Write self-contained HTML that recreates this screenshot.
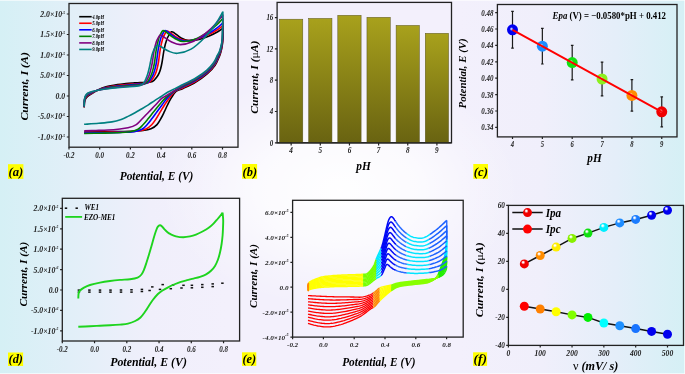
<!DOCTYPE html><html><head><meta charset="utf-8"><style>html,body{margin:0;padding:0;background:#fff;overflow:hidden;width:685px;height:374px;}svg{display:block;will-change:transform;}</style></head><body>
<svg width="685" height="374" viewBox="0 0 685 374" font-family="'Liberation Serif', serif">
<defs>
<linearGradient id="bg" x1="0" y1="0" x2="1" y2="0">
<stop offset="0" stop-color="#d5f0f5"/>
<stop offset="0.1" stop-color="#e1eff8"/>
<stop offset="0.22" stop-color="#f0effb"/>
<stop offset="0.33" stop-color="#f3f0fc"/>
<stop offset="0.67" stop-color="#f3f0fc"/>
<stop offset="0.79" stop-color="#f0effb"/>
<stop offset="0.9" stop-color="#e4eef9"/>
<stop offset="1" stop-color="#d5f0f5"/>
</linearGradient>
<radialGradient id="glow" gradientUnits="userSpaceOnUse" cx="340" cy="190" r="180" gradientTransform="translate(340,190) scale(1,0.66) translate(-340,-190)">
<stop offset="0" stop-color="#ffffff" stop-opacity="0.97"/>
<stop offset="0.45" stop-color="#ffffff" stop-opacity="0.7"/>
<stop offset="0.75" stop-color="#ffffff" stop-opacity="0.25"/>
<stop offset="1" stop-color="#ffffff" stop-opacity="0"/>
</radialGradient>
<linearGradient id="bar" x1="0" y1="0" x2="0" y2="1">
<stop offset="0" stop-color="#a8a11c"/>
<stop offset="1" stop-color="#696311"/>
</linearGradient>
<linearGradient id="pbg" x1="0" y1="0" x2="0" y2="1">
<stop offset="0" stop-color="#ffffff" stop-opacity="0.25"/>
<stop offset="1" stop-color="#ffffff" stop-opacity="0.25"/>
</linearGradient>

<radialGradient id="g_blue" cx="0.42" cy="0.4" r="0.62" fx="0.36" fy="0.3"><stop offset="0" stop-color="#ffffff"/><stop offset="0.1" stop-color="#ffffff" stop-opacity="0.9"/><stop offset="0.38" stop-color="#0000f0"/><stop offset="1" stop-color="#0000f0"/></radialGradient>
<radialGradient id="g_dblue" cx="0.42" cy="0.4" r="0.62" fx="0.36" fy="0.3"><stop offset="0" stop-color="#ffffff"/><stop offset="0.1" stop-color="#ffffff" stop-opacity="0.9"/><stop offset="0.38" stop-color="#1e8cff"/><stop offset="1" stop-color="#1e8cff"/></radialGradient>
<radialGradient id="g_green" cx="0.42" cy="0.4" r="0.62" fx="0.36" fy="0.3"><stop offset="0" stop-color="#ffffff"/><stop offset="0.1" stop-color="#ffffff" stop-opacity="0.9"/><stop offset="0.38" stop-color="#11e011"/><stop offset="1" stop-color="#11e011"/></radialGradient>
<radialGradient id="g_lgreen" cx="0.42" cy="0.4" r="0.62" fx="0.36" fy="0.3"><stop offset="0" stop-color="#ffffff"/><stop offset="0.1" stop-color="#ffffff" stop-opacity="0.9"/><stop offset="0.38" stop-color="#8cf01e"/><stop offset="1" stop-color="#8cf01e"/></radialGradient>
<radialGradient id="g_orange" cx="0.42" cy="0.4" r="0.62" fx="0.36" fy="0.3"><stop offset="0" stop-color="#ffffff"/><stop offset="0.1" stop-color="#ffffff" stop-opacity="0.9"/><stop offset="0.38" stop-color="#ff8c00"/><stop offset="1" stop-color="#ff8c00"/></radialGradient>
<radialGradient id="g_red" cx="0.42" cy="0.4" r="0.62" fx="0.36" fy="0.3"><stop offset="0" stop-color="#ffffff"/><stop offset="0.1" stop-color="#ffffff" stop-opacity="0.9"/><stop offset="0.38" stop-color="#f00000"/><stop offset="1" stop-color="#f00000"/></radialGradient>
<radialGradient id="g_yellow" cx="0.42" cy="0.4" r="0.62" fx="0.36" fy="0.3"><stop offset="0" stop-color="#ffffff"/><stop offset="0.1" stop-color="#ffffff" stop-opacity="0.9"/><stop offset="0.38" stop-color="#ffee00"/><stop offset="1" stop-color="#ffee00"/></radialGradient>
<radialGradient id="g_cyan" cx="0.42" cy="0.4" r="0.62" fx="0.36" fy="0.3"><stop offset="0" stop-color="#ffffff"/><stop offset="0.1" stop-color="#ffffff" stop-opacity="0.9"/><stop offset="0.38" stop-color="#00eeff"/><stop offset="1" stop-color="#00eeff"/></radialGradient>
<radialGradient id="g_mblue" cx="0.42" cy="0.4" r="0.62" fx="0.36" fy="0.3"><stop offset="0" stop-color="#ffffff"/><stop offset="0.1" stop-color="#ffffff" stop-opacity="0.9"/><stop offset="0.38" stop-color="#1a7cff"/><stop offset="1" stop-color="#1a7cff"/></radialGradient>
<radialGradient id="g_ygreen" cx="0.42" cy="0.4" r="0.62" fx="0.36" fy="0.3"><stop offset="0" stop-color="#ffffff"/><stop offset="0.1" stop-color="#ffffff" stop-opacity="0.9"/><stop offset="0.38" stop-color="#88f000"/><stop offset="1" stop-color="#88f000"/></radialGradient>
<radialGradient id="gc_blue" cx="0.45" cy="0.45" r="0.6" fx="0.4" fy="0.42"><stop offset="0" stop-color="#ffffff"/><stop offset="0.3" stop-color="#0000f0"/><stop offset="1" stop-color="#0000f0"/></radialGradient>
<radialGradient id="gc_dblue" cx="0.45" cy="0.45" r="0.6" fx="0.4" fy="0.42"><stop offset="0" stop-color="#ffffff"/><stop offset="0.3" stop-color="#1e8cff"/><stop offset="1" stop-color="#1e8cff"/></radialGradient>
<radialGradient id="gc_green" cx="0.45" cy="0.45" r="0.6" fx="0.4" fy="0.42"><stop offset="0" stop-color="#ffffff"/><stop offset="0.3" stop-color="#11e011"/><stop offset="1" stop-color="#11e011"/></radialGradient>
<radialGradient id="gc_lgreen" cx="0.45" cy="0.45" r="0.6" fx="0.4" fy="0.42"><stop offset="0" stop-color="#ffffff"/><stop offset="0.3" stop-color="#8cf01e"/><stop offset="1" stop-color="#8cf01e"/></radialGradient>
<radialGradient id="gc_orange" cx="0.45" cy="0.45" r="0.6" fx="0.4" fy="0.42"><stop offset="0" stop-color="#ffffff"/><stop offset="0.3" stop-color="#ff8c00"/><stop offset="1" stop-color="#ff8c00"/></radialGradient>
<radialGradient id="gc_red" cx="0.45" cy="0.45" r="0.6" fx="0.4" fy="0.42"><stop offset="0" stop-color="#ffffff"/><stop offset="0.3" stop-color="#f00000"/><stop offset="1" stop-color="#f00000"/></radialGradient>
<radialGradient id="gc_yellow" cx="0.45" cy="0.45" r="0.6" fx="0.4" fy="0.42"><stop offset="0" stop-color="#ffffff"/><stop offset="0.3" stop-color="#ffee00"/><stop offset="1" stop-color="#ffee00"/></radialGradient>
<radialGradient id="gc_cyan" cx="0.45" cy="0.45" r="0.6" fx="0.4" fy="0.42"><stop offset="0" stop-color="#ffffff"/><stop offset="0.3" stop-color="#00eeff"/><stop offset="1" stop-color="#00eeff"/></radialGradient>
<radialGradient id="gc_mblue" cx="0.45" cy="0.45" r="0.6" fx="0.4" fy="0.42"><stop offset="0" stop-color="#ffffff"/><stop offset="0.3" stop-color="#1a7cff"/><stop offset="1" stop-color="#1a7cff"/></radialGradient>
<radialGradient id="gc_ygreen" cx="0.45" cy="0.45" r="0.6" fx="0.4" fy="0.42"><stop offset="0" stop-color="#ffffff"/><stop offset="0.3" stop-color="#88f000"/><stop offset="1" stop-color="#88f000"/></radialGradient>
</defs>
<rect x="0" y="0" width="685" height="374" fill="url(#bg)"/>
<rect x="0" y="0" width="685" height="374" fill="url(#glow)"/>
<rect x="0" y="0" width="685" height="1" fill="#ffffff" opacity="0.6"/>
<rect x="0" y="373" width="685" height="1" fill="#ffffff" opacity="0.6"/>
<rect x="684" y="0" width="1" height="374" fill="#ffffff" opacity="0.6"/>
<rect x="69.00" y="3.50" width="169.00" height="143.70" fill="none" stroke="#222" stroke-width="1.30"/>
<path d="M69.00,14.00H66.80M69.00,34.50H66.80M69.00,55.00H66.80M69.00,75.50H66.80M69.00,96.00H66.80M69.00,116.50H66.80M69.00,137.00H66.80" stroke="#222" stroke-width="1.20" fill="none"/>
<path d="M69.00,147.20V149.40M99.70,147.20V149.40M130.40,147.20V149.40M161.10,147.20V149.40M191.80,147.20V149.40M222.50,147.20V149.40" stroke="#222" stroke-width="1.20" fill="none"/>
<text x="65.20" y="16.90" font-size="8.40" font-weight="bold" font-style="italic" text-anchor="end" fill="#1a1a1a" textLength="24.86" lengthAdjust="spacingAndGlyphs" >2.0&#215;10<tspan font-size="4.00" dy="-3.3">-5</tspan></text>
<text x="65.20" y="37.40" font-size="8.40" font-weight="bold" font-style="italic" text-anchor="end" fill="#1a1a1a" textLength="24.86" lengthAdjust="spacingAndGlyphs" >1.5&#215;10<tspan font-size="4.00" dy="-3.3">-5</tspan></text>
<text x="65.20" y="57.90" font-size="8.40" font-weight="bold" font-style="italic" text-anchor="end" fill="#1a1a1a" textLength="24.86" lengthAdjust="spacingAndGlyphs" >1.0&#215;10<tspan font-size="4.00" dy="-3.3">-5</tspan></text>
<text x="65.20" y="78.40" font-size="8.40" font-weight="bold" font-style="italic" text-anchor="end" fill="#1a1a1a" textLength="24.86" lengthAdjust="spacingAndGlyphs" >5.0&#215;10<tspan font-size="4.00" dy="-3.3">-6</tspan></text>
<text x="65.20" y="98.90" font-size="8.40" font-weight="bold" font-style="italic" text-anchor="end" fill="#1a1a1a" textLength="9.66" lengthAdjust="spacingAndGlyphs" >0.0</text>
<text x="65.20" y="119.40" font-size="8.40" font-weight="bold" font-style="italic" text-anchor="end" fill="#1a1a1a" textLength="27.43" lengthAdjust="spacingAndGlyphs" >-5.0&#215;10<tspan font-size="4.00" dy="-3.3">-6</tspan></text>
<text x="65.20" y="139.90" font-size="8.40" font-weight="bold" font-style="italic" text-anchor="end" fill="#1a1a1a" textLength="27.43" lengthAdjust="spacingAndGlyphs" >-1.0&#215;10<tspan font-size="4.00" dy="-3.3">-5</tspan></text>
<text x="69.00" y="158.40" font-size="7.80" font-weight="bold" font-style="italic" text-anchor="middle" fill="#1a1a1a" textLength="11.11" lengthAdjust="spacingAndGlyphs" >-0.2</text>
<text x="99.70" y="158.40" font-size="7.80" font-weight="bold" font-style="italic" text-anchor="middle" fill="#1a1a1a" textLength="8.78" lengthAdjust="spacingAndGlyphs" >0.0</text>
<text x="130.40" y="158.40" font-size="7.80" font-weight="bold" font-style="italic" text-anchor="middle" fill="#1a1a1a" textLength="8.78" lengthAdjust="spacingAndGlyphs" >0.2</text>
<text x="161.10" y="158.40" font-size="7.80" font-weight="bold" font-style="italic" text-anchor="middle" fill="#1a1a1a" textLength="8.78" lengthAdjust="spacingAndGlyphs" >0.4</text>
<text x="191.80" y="158.40" font-size="7.80" font-weight="bold" font-style="italic" text-anchor="middle" fill="#1a1a1a" textLength="8.78" lengthAdjust="spacingAndGlyphs" >0.6</text>
<text x="222.50" y="158.40" font-size="7.80" font-weight="bold" font-style="italic" text-anchor="middle" fill="#1a1a1a" textLength="8.78" lengthAdjust="spacingAndGlyphs" >0.8</text>
<text transform="translate(28.30,86.30) rotate(-90)" x="0" y="0" font-size="11.00" font-weight="bold" font-style="italic" text-anchor="middle" textLength="68.60" lengthAdjust="spacingAndGlyphs">Current, I (A)</text>
<text x="119.70" y="180.10" font-size="12.80" font-weight="bold" font-style="italic" text-anchor="start" fill="#000" textLength="73.70" lengthAdjust="spacingAndGlyphs" >Potential, E (V)</text>
<rect x="8.00" y="164.20" width="15.40" height="14.70" fill="#ffff00"/>
<text x="15.90" y="175.70" font-size="12.20" font-weight="bold" font-style="italic" text-anchor="middle" fill="#000" textLength="14.80" lengthAdjust="spacingAndGlyphs" >(a)</text>
<path d="M79.2,16.70H91.7" stroke="#000000" stroke-width="1.6"/>
<text x="92.20" y="18.70" font-size="6.20" font-weight="bold" font-style="italic" text-anchor="start" fill="#000" textLength="12.00" lengthAdjust="spacingAndGlyphs" >4.0pH</text>
<path d="M79.2,23.25H91.7" stroke="#ff0000" stroke-width="1.6"/>
<text x="92.20" y="25.25" font-size="6.20" font-weight="bold" font-style="italic" text-anchor="start" fill="#000" textLength="12.00" lengthAdjust="spacingAndGlyphs" >5.0pH</text>
<path d="M79.2,29.80H91.7" stroke="#0000ff" stroke-width="1.6"/>
<text x="92.20" y="31.80" font-size="6.20" font-weight="bold" font-style="italic" text-anchor="start" fill="#000" textLength="12.00" lengthAdjust="spacingAndGlyphs" >6.0pH</text>
<path d="M79.2,36.35H91.7" stroke="#008000" stroke-width="1.6"/>
<text x="92.20" y="38.35" font-size="6.20" font-weight="bold" font-style="italic" text-anchor="start" fill="#000" textLength="12.00" lengthAdjust="spacingAndGlyphs" >7.0pH</text>
<path d="M79.2,42.90H91.7" stroke="#800080" stroke-width="1.6"/>
<text x="92.20" y="44.90" font-size="6.20" font-weight="bold" font-style="italic" text-anchor="start" fill="#000" textLength="12.00" lengthAdjust="spacingAndGlyphs" >8.0pH</text>
<path d="M79.2,49.45H91.7" stroke="#008080" stroke-width="1.6"/>
<text x="92.20" y="51.45" font-size="6.20" font-weight="bold" font-style="italic" text-anchor="start" fill="#000" textLength="12.00" lengthAdjust="spacingAndGlyphs" >9.0pH</text>
<path d="M84.20,107.50 C84.25,106.58 84.27,103.45 84.50,102.00 C84.73,100.55 85.02,99.77 85.60,98.80 C86.18,97.83 86.93,97.07 88.00,96.20 C89.07,95.33 90.33,94.65 92.00,93.60 C93.67,92.55 95.67,91.03 98.00,89.90 C100.33,88.77 102.75,87.68 106.00,86.80 C109.25,85.92 114.17,85.13 117.50,84.60 C120.83,84.07 123.42,83.87 126.00,83.60 C128.58,83.33 130.67,83.18 133.00,83.00 C135.33,82.82 137.83,82.60 140.00,82.50 C142.17,82.40 144.22,82.47 146.00,82.40 C147.78,82.33 149.37,82.45 150.70,82.10 C152.03,81.75 152.95,81.18 154.00,80.30 C155.05,79.42 156.15,77.98 157.00,76.80 C157.85,75.62 158.48,74.58 159.10,73.20 C159.72,71.82 160.20,70.37 160.70,68.50 C161.20,66.63 161.53,65.20 162.10,62.00 C162.67,58.80 163.34,53.14 164.15,49.32 C164.95,45.49 166.07,41.51 166.94,39.05 C167.80,36.58 168.61,35.73 169.35,34.52 C170.10,33.31 170.59,32.09 171.40,31.80 C172.21,31.51 172.59,31.77 174.20,32.80 C175.81,33.83 178.63,36.70 181.05,38.00 C183.47,39.30 185.72,40.37 188.70,40.60 C191.68,40.83 195.54,40.15 198.96,39.37 C202.38,38.59 206.08,37.20 209.22,35.93 C212.36,34.66 215.49,33.02 217.77,31.74 C220.05,30.47 222.05,28.87 222.90,28.30 M222.90,28.30 C222.92,29.92 223.12,35.05 223.00,38.00 C222.88,40.95 222.53,43.75 222.20,46.00 C221.87,48.25 221.48,49.73 221.00,51.50 C220.52,53.27 220.28,54.32 219.30,56.60 C218.32,58.88 217.08,62.37 215.10,65.20 C213.12,68.03 210.62,70.80 207.40,73.60 C204.18,76.40 199.87,79.52 195.80,82.00 C191.73,84.48 186.30,86.92 183.00,88.50 C179.70,90.08 178.00,89.85 176.00,91.50 C174.00,93.15 172.42,96.15 171.00,98.40 C169.58,100.65 168.60,102.78 167.50,105.00 C166.40,107.22 165.40,109.62 164.40,111.70 C163.40,113.78 162.73,115.35 161.50,117.50 C160.27,119.65 158.75,122.72 157.00,124.60 C155.25,126.48 153.33,127.82 151.00,128.80 C148.67,129.78 146.50,130.10 143.00,130.50 C139.50,130.90 135.50,131.02 130.00,131.20 C124.50,131.38 117.63,131.47 110.00,131.60 C102.37,131.73 88.50,131.93 84.20,132.00" fill="none" stroke="#000000" stroke-width="1.60" stroke-linejoin="round"/>
<path d="M84.20,107.19 C84.24,106.20 84.24,102.79 84.47,101.22 C84.70,99.66 85.01,98.78 85.60,97.78 C86.19,96.77 86.93,96.01 88.00,95.21 C89.07,94.41 90.33,93.84 92.00,92.98 C93.67,92.12 95.67,90.94 98.00,90.02 C100.33,89.11 102.75,88.23 106.00,87.48 C109.25,86.73 114.17,86.00 117.50,85.53 C120.83,85.06 123.42,84.90 126.00,84.66 C128.58,84.41 130.77,84.24 133.00,84.06 C135.23,83.87 137.50,83.68 139.38,83.56 C141.26,83.43 142.81,83.45 144.26,83.33 C145.71,83.21 146.93,83.28 148.06,82.84 C149.20,82.41 150.14,81.67 151.08,80.70 C152.02,79.74 152.96,78.25 153.71,77.05 C154.46,75.84 154.99,74.91 155.56,73.48 C156.13,72.04 156.64,70.35 157.13,68.44 C157.62,66.52 157.97,65.23 158.50,62.00 C159.03,58.77 159.59,52.97 160.30,49.06 C161.01,45.16 162.00,41.11 162.76,38.59 C163.53,36.08 164.24,35.20 164.90,33.97 C165.55,32.74 165.93,31.50 166.70,31.20 C167.47,30.90 167.72,31.12 169.50,32.20 C171.28,33.28 174.60,36.30 177.35,37.70 C180.10,39.10 182.71,40.37 186.00,40.60 C189.29,40.83 193.38,40.05 197.07,39.09 C200.76,38.13 204.76,36.42 208.14,34.86 C211.52,33.30 214.91,31.29 217.37,29.73 C219.83,28.17 221.98,26.20 222.90,25.50 M222.90,25.50 C222.89,27.58 223.00,34.58 222.84,38.00 C222.68,41.42 222.32,43.75 221.96,46.00 C221.60,48.25 221.19,49.77 220.68,51.50 C220.17,53.23 219.88,54.16 218.90,56.36 C217.92,58.56 216.72,61.95 214.78,64.72 C212.84,67.49 210.40,70.21 207.24,72.96 C204.08,75.71 199.84,78.74 195.80,81.20 C191.76,83.66 186.47,86.02 183.00,87.70 C179.53,89.38 177.33,89.52 175.00,91.30 C172.67,93.08 170.75,96.12 169.00,98.40 C167.25,100.68 165.93,102.78 164.50,105.00 C163.07,107.22 161.77,109.45 160.40,111.70 C159.03,113.95 157.75,116.32 156.30,118.50 C154.85,120.68 153.42,123.05 151.70,124.80 C149.98,126.55 148.28,127.97 146.00,129.00 C143.72,130.03 141.50,130.53 138.00,131.00 C134.50,131.47 130.50,131.60 125.00,131.80 C119.50,132.00 111.80,132.07 105.00,132.20 C98.20,132.33 87.67,132.53 84.20,132.60" fill="none" stroke="#ff0000" stroke-width="1.60" stroke-linejoin="round"/>
<path d="M84.20,107.02 C84.24,105.98 84.22,102.43 84.45,100.79 C84.69,99.16 85.01,98.23 85.60,97.21 C86.19,96.18 86.93,95.42 88.00,94.66 C89.07,93.89 90.33,93.39 92.00,92.63 C93.67,91.87 95.67,90.89 98.00,90.09 C100.33,89.30 102.75,88.54 106.00,87.86 C109.25,87.19 114.17,86.49 117.50,86.05 C120.83,85.61 123.42,85.48 126.00,85.24 C128.58,85.01 130.83,84.82 133.00,84.64 C135.17,84.46 137.32,84.27 139.03,84.14 C140.75,84.01 142.04,84.00 143.30,83.85 C144.56,83.70 145.57,83.75 146.60,83.26 C147.62,82.77 148.58,81.94 149.46,80.93 C150.34,79.92 151.19,78.40 151.88,77.19 C152.57,75.97 153.05,75.10 153.60,73.63 C154.14,72.17 154.66,70.34 155.15,68.40 C155.63,66.46 155.97,65.26 156.50,62.00 C157.03,58.74 157.59,52.82 158.30,48.85 C159.01,44.89 160.00,40.77 160.76,38.21 C161.53,35.66 162.24,34.77 162.90,33.52 C163.55,32.26 163.93,31.00 164.70,30.70 C165.47,30.40 165.68,30.54 167.50,31.70 C169.32,32.86 172.77,36.10 175.60,37.65 C178.43,39.20 181.10,40.74 184.50,41.00 C187.90,41.26 192.18,40.33 196.02,39.18 C199.86,38.03 204.02,35.96 207.54,34.08 C211.06,32.20 214.58,29.78 217.14,27.90 C219.70,26.02 221.94,23.65 222.90,22.80 M222.90,22.80 C222.86,25.33 222.88,34.13 222.68,38.00 C222.48,41.87 222.11,43.75 221.72,46.00 C221.33,48.25 220.90,49.81 220.36,51.50 C219.82,53.19 219.48,54.00 218.50,56.12 C217.52,58.24 216.36,61.54 214.46,64.24 C212.56,66.94 210.19,69.63 207.08,72.32 C203.97,75.01 199.81,77.97 195.80,80.40 C191.79,82.83 186.55,85.10 183.00,86.90 C179.45,88.70 177.17,89.28 174.50,91.20 C171.83,93.12 169.08,96.10 167.00,98.40 C164.92,100.70 163.67,102.78 162.00,105.00 C160.33,107.22 158.67,109.45 157.00,111.70 C155.33,113.95 153.67,116.32 152.00,118.50 C150.33,120.68 148.67,123.00 147.00,124.80 C145.33,126.60 144.17,128.17 142.00,129.30 C139.83,130.43 137.67,131.08 134.00,131.60 C130.33,132.12 125.67,132.20 120.00,132.40 C114.33,132.60 105.97,132.68 100.00,132.80 C94.03,132.92 86.83,133.05 84.20,133.10" fill="none" stroke="#0000ff" stroke-width="1.60" stroke-linejoin="round"/>
<path d="M84.20,106.85 C84.24,105.78 84.20,102.08 84.44,100.38 C84.67,98.69 85.01,97.71 85.60,96.67 C86.19,95.62 86.93,94.86 88.00,94.13 C89.07,93.40 90.33,92.97 92.00,92.31 C93.67,91.64 95.67,90.84 98.00,90.16 C100.33,89.48 102.75,88.83 106.00,88.22 C109.25,87.62 114.17,86.94 117.50,86.54 C120.83,86.14 123.42,86.02 126.00,85.80 C128.58,85.57 130.88,85.38 133.00,85.20 C135.12,85.01 137.14,84.84 138.71,84.70 C140.27,84.56 141.30,84.51 142.38,84.34 C143.46,84.17 144.28,84.18 145.20,83.65 C146.13,83.12 147.10,82.20 147.92,81.14 C148.75,80.08 149.51,78.54 150.15,77.32 C150.78,76.09 151.21,75.27 151.73,73.78 C152.25,72.29 152.79,70.33 153.26,68.37 C153.74,66.41 154.08,65.25 154.60,62.00 C155.12,58.75 155.68,52.82 156.38,48.85 C157.08,44.89 158.06,40.77 158.81,38.21 C159.57,35.66 160.27,34.77 160.92,33.52 C161.57,32.26 161.94,31.00 162.70,30.70 C163.46,30.40 163.64,30.50 165.50,31.70 C167.36,32.90 170.93,36.27 173.85,37.90 C176.77,39.53 179.48,41.29 183.00,41.50 C186.52,41.71 190.98,40.65 194.97,39.17 C198.96,37.69 203.28,35.05 206.94,32.65 C210.60,30.24 214.26,27.13 216.92,24.72 C219.58,22.32 221.90,19.29 222.90,18.20 M222.90,18.20 C222.84,21.50 222.76,33.37 222.52,38.00 C222.28,42.63 221.89,43.75 221.48,46.00 C221.07,48.25 220.60,49.85 220.04,51.50 C219.48,53.15 219.08,53.84 218.10,55.88 C217.12,57.92 216.00,61.13 214.14,63.76 C212.28,66.39 209.98,69.04 206.92,71.68 C203.86,74.32 199.79,77.20 195.80,79.60 C191.81,82.00 186.63,84.18 183.00,86.10 C179.37,88.02 177.00,89.05 174.00,91.10 C171.00,93.15 167.47,96.08 165.00,98.40 C162.53,100.72 161.08,102.78 159.20,105.00 C157.32,107.22 155.52,109.45 153.70,111.70 C151.88,113.95 150.08,116.32 148.30,118.50 C146.52,120.68 144.72,123.00 143.00,124.80 C141.28,126.60 140.17,128.13 138.00,129.30 C135.83,130.47 133.67,131.22 130.00,131.80 C126.33,132.38 121.00,132.57 116.00,132.80 C111.00,133.03 105.30,133.08 100.00,133.20 C94.70,133.32 86.83,133.45 84.20,133.50" fill="none" stroke="#008000" stroke-width="1.60" stroke-linejoin="round"/>
<path d="M84.20,106.66 C84.24,105.54 84.18,101.68 84.42,99.91 C84.65,98.14 85.00,97.10 85.60,96.04 C86.20,94.98 86.93,94.21 88.00,93.52 C89.07,92.84 90.33,92.48 92.00,91.93 C93.67,91.38 95.67,90.78 98.00,90.23 C100.33,89.69 102.75,89.16 106.00,88.64 C109.25,88.12 114.17,87.47 117.50,87.11 C120.83,86.74 123.42,86.65 126.00,86.44 C128.58,86.23 130.95,86.03 133.00,85.84 C135.05,85.66 136.94,85.50 138.33,85.34 C139.71,85.19 140.44,85.11 141.32,84.91 C142.19,84.70 142.79,84.69 143.59,84.11 C144.40,83.52 145.38,82.49 146.14,81.39 C146.90,80.28 147.56,78.71 148.14,77.47 C148.71,76.23 149.08,75.48 149.57,73.95 C150.06,72.43 150.61,70.32 151.08,68.33 C151.56,66.34 151.90,64.93 152.40,62.00 C152.90,59.07 153.41,54.14 154.07,50.74 C154.73,47.35 155.64,43.82 156.35,41.63 C157.06,39.44 157.72,38.68 158.33,37.61 C158.94,36.54 159.25,35.44 160.00,35.20 C160.75,34.96 160.94,35.12 162.80,36.20 C164.66,37.28 168.23,40.30 171.15,41.70 C174.07,43.10 176.65,44.62 180.30,44.60 C183.96,44.58 188.82,43.50 193.08,41.60 C197.34,39.70 201.96,36.30 205.86,33.20 C209.77,30.10 213.67,26.10 216.51,23.00 C219.35,19.90 221.84,16.00 222.90,14.60 M222.90,14.60 C222.81,18.50 222.64,32.77 222.36,38.00 C222.08,43.23 221.68,43.75 221.24,46.00 C220.80,48.25 220.31,49.89 219.72,51.50 C219.13,53.11 218.68,53.68 217.70,55.64 C216.72,57.60 215.64,60.71 213.82,63.28 C212.00,65.85 209.76,68.45 206.76,71.04 C203.76,73.63 199.76,76.42 195.80,78.80 C191.84,81.18 186.63,83.28 183.00,85.30 C179.37,87.32 176.58,89.28 174.00,90.90 C171.42,92.52 169.55,93.75 167.50,95.00 C165.45,96.25 163.70,96.73 161.70,98.40 C159.70,100.07 157.62,102.78 155.50,105.00 C153.38,107.22 151.17,109.45 149.00,111.70 C146.83,113.95 144.62,116.35 142.50,118.50 C140.38,120.65 138.72,123.05 136.30,124.60 C133.88,126.15 131.05,127.03 128.00,127.80 C124.95,128.57 121.33,128.83 118.00,129.20 C114.67,129.57 111.67,129.78 108.00,130.00 C104.33,130.22 99.97,130.35 96.00,130.50 C92.03,130.65 86.17,130.83 84.20,130.90" fill="none" stroke="#800080" stroke-width="1.60" stroke-linejoin="round"/>
<path d="M84.20,106.50 C84.23,105.33 84.17,101.33 84.40,99.50 C84.63,97.67 85.00,96.58 85.60,95.50 C86.20,94.42 86.93,93.65 88.00,93.00 C89.07,92.35 90.33,92.05 92.00,91.60 C93.67,91.15 95.67,90.73 98.00,90.30 C100.33,89.87 102.75,89.45 106.00,89.00 C109.25,88.55 114.17,87.93 117.50,87.60 C120.83,87.27 123.42,87.20 126.00,87.00 C128.58,86.80 131.00,86.58 133.00,86.40 C135.00,86.22 136.77,86.07 138.00,85.90 C139.23,85.73 139.70,85.63 140.40,85.40 C141.10,85.17 141.50,85.13 142.20,84.50 C142.90,83.87 143.90,82.75 144.60,81.60 C145.30,80.45 145.88,78.85 146.40,77.60 C146.92,76.35 147.23,75.65 147.70,74.10 C148.17,72.55 148.73,70.32 149.20,68.30 C149.67,66.28 150.03,64.23 150.50,62.00 C150.97,59.77 151.42,57.07 152.02,54.94 C152.62,52.82 153.44,50.60 154.09,49.23 C154.73,47.86 155.33,47.38 155.88,46.71 C156.43,46.04 156.68,45.29 157.40,45.20 C158.12,45.11 158.37,45.23 160.20,46.20 C162.03,47.18 165.53,49.87 168.40,51.05 C171.27,52.23 173.62,53.62 177.40,53.30 C181.18,52.98 186.50,51.77 191.05,49.13 C195.60,46.49 200.53,41.76 204.70,37.45 C208.87,33.15 213.04,27.59 216.07,23.28 C219.11,18.97 221.76,13.55 222.90,11.60 M222.90,11.60 C222.78,16.00 222.52,32.27 222.20,38.00 C221.88,43.73 221.47,43.75 221.00,46.00 C220.53,48.25 220.02,49.93 219.40,51.50 C218.78,53.07 218.28,53.52 217.30,55.40 C216.32,57.28 215.28,60.30 213.50,62.80 C211.72,65.30 209.55,67.87 206.60,70.40 C203.65,72.93 199.73,75.65 195.80,78.00 C191.87,80.35 186.47,82.73 183.00,84.50 C179.53,86.27 177.50,87.35 175.00,88.60 C172.50,89.85 170.22,90.73 168.00,92.00 C165.78,93.27 163.87,94.82 161.70,96.20 C159.53,97.58 157.22,98.87 155.00,100.30 C152.78,101.73 150.73,103.30 148.40,104.80 C146.07,106.30 143.23,107.97 141.00,109.30 C138.77,110.63 137.17,111.62 135.00,112.80 C132.83,113.98 130.30,115.30 128.00,116.40 C125.70,117.50 123.88,118.48 121.20,119.40 C118.52,120.32 115.65,121.25 111.90,121.90 C108.15,122.55 103.33,122.90 98.70,123.30 C94.07,123.70 86.53,124.13 84.10,124.30" fill="none" stroke="#008080" stroke-width="1.60" stroke-linejoin="round"/>
<rect x="277.10" y="2.40" width="174.40" height="140.40" fill="none" stroke="#222" stroke-width="1.30"/>
<path d="M277.10,142.80H274.90M277.10,111.50H274.90M277.10,80.20H274.90M277.10,48.90H274.90M277.10,17.60H274.90" stroke="#222" stroke-width="1.20" fill="none"/>
<text x="273.30" y="145.60" font-size="8.00" font-weight="bold" font-style="italic" text-anchor="end" fill="#1a1a1a" textLength="3.44" lengthAdjust="spacingAndGlyphs" >0</text>
<text x="273.30" y="114.30" font-size="8.00" font-weight="bold" font-style="italic" text-anchor="end" fill="#1a1a1a" textLength="3.44" lengthAdjust="spacingAndGlyphs" >4</text>
<text x="273.30" y="83.00" font-size="8.00" font-weight="bold" font-style="italic" text-anchor="end" fill="#1a1a1a" textLength="3.44" lengthAdjust="spacingAndGlyphs" >8</text>
<text x="273.30" y="51.70" font-size="8.00" font-weight="bold" font-style="italic" text-anchor="end" fill="#1a1a1a" textLength="6.88" lengthAdjust="spacingAndGlyphs" >12</text>
<text x="273.30" y="20.40" font-size="8.00" font-weight="bold" font-style="italic" text-anchor="end" fill="#1a1a1a" textLength="6.88" lengthAdjust="spacingAndGlyphs" >16</text>
<rect x="279.50" y="19.20" width="23.3" height="123.60" fill="url(#bar)" stroke="#5a5520" stroke-width="0.5"/>
<rect x="308.65" y="18.40" width="23.3" height="124.40" fill="url(#bar)" stroke="#5a5520" stroke-width="0.5"/>
<rect x="337.80" y="15.30" width="23.3" height="127.50" fill="url(#bar)" stroke="#5a5520" stroke-width="0.5"/>
<rect x="366.95" y="17.30" width="23.3" height="125.50" fill="url(#bar)" stroke="#5a5520" stroke-width="0.5"/>
<rect x="396.10" y="25.40" width="23.3" height="117.40" fill="url(#bar)" stroke="#5a5520" stroke-width="0.5"/>
<rect x="425.25" y="33.30" width="23.3" height="109.50" fill="url(#bar)" stroke="#5a5520" stroke-width="0.5"/>
<path d="M277.10,142.80H451.50" stroke="#222" stroke-width="1.3"/>
<path d="M291.15,142.80V145.40M320.30,142.80V145.40M349.45,142.80V145.40M378.60,142.80V145.40M407.75,142.80V145.40M436.90,142.80V145.40" stroke="#222" stroke-width="1.20" fill="none"/>
<text x="291.15" y="153.20" font-size="8.00" font-weight="bold" font-style="italic" text-anchor="middle" fill="#1a1a1a" textLength="3.60" lengthAdjust="spacingAndGlyphs" >4</text>
<text x="320.30" y="153.20" font-size="8.00" font-weight="bold" font-style="italic" text-anchor="middle" fill="#1a1a1a" textLength="3.60" lengthAdjust="spacingAndGlyphs" >5</text>
<text x="349.45" y="153.20" font-size="8.00" font-weight="bold" font-style="italic" text-anchor="middle" fill="#1a1a1a" textLength="3.60" lengthAdjust="spacingAndGlyphs" >6</text>
<text x="378.60" y="153.20" font-size="8.00" font-weight="bold" font-style="italic" text-anchor="middle" fill="#1a1a1a" textLength="3.60" lengthAdjust="spacingAndGlyphs" >7</text>
<text x="407.75" y="153.20" font-size="8.00" font-weight="bold" font-style="italic" text-anchor="middle" fill="#1a1a1a" textLength="3.60" lengthAdjust="spacingAndGlyphs" >8</text>
<text x="436.90" y="153.20" font-size="8.00" font-weight="bold" font-style="italic" text-anchor="middle" fill="#1a1a1a" textLength="3.60" lengthAdjust="spacingAndGlyphs" >9</text>
<text transform="translate(257.80,77.20) rotate(-90)" x="0" y="0" font-size="11.00" font-weight="bold" font-style="italic" text-anchor="middle" textLength="73.30" lengthAdjust="spacingAndGlyphs">Current, I (<tspan font-style="normal" font-weight="normal">&#956;</tspan>A)</text>
<text x="356.30" y="170.40" font-size="13.50" font-weight="bold" font-style="italic" text-anchor="start" fill="#000" textLength="14.50" lengthAdjust="spacingAndGlyphs" >pH</text>
<rect x="242.10" y="164.00" width="15.00" height="14.80" fill="#ffff00"/>
<text x="249.80" y="175.60" font-size="12.20" font-weight="bold" font-style="italic" text-anchor="middle" fill="#000" textLength="14.40" lengthAdjust="spacingAndGlyphs" >(b)</text>
<rect x="497.40" y="4.50" width="179.60" height="132.40" fill="none" stroke="#222" stroke-width="1.30"/>
<path d="M497.40,12.60H495.20M497.40,29.00H495.20M497.40,45.40H495.20M497.40,61.80H495.20M497.40,78.20H495.20M497.40,94.60H495.20M497.40,111.00H495.20M497.40,127.40H495.20" stroke="#222" stroke-width="1.20" fill="none"/>
<text x="493.50" y="15.50" font-size="7.60" font-weight="bold" font-style="italic" text-anchor="end" fill="#1a1a1a" textLength="12.24" lengthAdjust="spacingAndGlyphs" >0.48</text>
<text x="493.50" y="31.90" font-size="7.60" font-weight="bold" font-style="italic" text-anchor="end" fill="#1a1a1a" textLength="12.24" lengthAdjust="spacingAndGlyphs" >0.46</text>
<text x="493.50" y="48.30" font-size="7.60" font-weight="bold" font-style="italic" text-anchor="end" fill="#1a1a1a" textLength="12.24" lengthAdjust="spacingAndGlyphs" >0.44</text>
<text x="493.50" y="64.70" font-size="7.60" font-weight="bold" font-style="italic" text-anchor="end" fill="#1a1a1a" textLength="12.24" lengthAdjust="spacingAndGlyphs" >0.42</text>
<text x="493.50" y="81.10" font-size="7.60" font-weight="bold" font-style="italic" text-anchor="end" fill="#1a1a1a" textLength="12.24" lengthAdjust="spacingAndGlyphs" >0.40</text>
<text x="493.50" y="97.50" font-size="7.60" font-weight="bold" font-style="italic" text-anchor="end" fill="#1a1a1a" textLength="12.24" lengthAdjust="spacingAndGlyphs" >0.38</text>
<text x="493.50" y="113.90" font-size="7.60" font-weight="bold" font-style="italic" text-anchor="end" fill="#1a1a1a" textLength="12.24" lengthAdjust="spacingAndGlyphs" >0.36</text>
<text x="493.50" y="130.30" font-size="7.60" font-weight="bold" font-style="italic" text-anchor="end" fill="#1a1a1a" textLength="12.24" lengthAdjust="spacingAndGlyphs" >0.34</text>
<path d="M512.50,136.90V139.10M542.35,136.90V139.10M572.20,136.90V139.10M602.05,136.90V139.10M631.90,136.90V139.10M661.75,136.90V139.10" stroke="#222" stroke-width="1.20" fill="none"/>
<text x="512.50" y="147.00" font-size="7.40" font-weight="bold" font-style="italic" text-anchor="middle" fill="#1a1a1a" textLength="3.33" lengthAdjust="spacingAndGlyphs" >4</text>
<text x="542.35" y="147.00" font-size="7.40" font-weight="bold" font-style="italic" text-anchor="middle" fill="#1a1a1a" textLength="3.33" lengthAdjust="spacingAndGlyphs" >5</text>
<text x="572.20" y="147.00" font-size="7.40" font-weight="bold" font-style="italic" text-anchor="middle" fill="#1a1a1a" textLength="3.33" lengthAdjust="spacingAndGlyphs" >6</text>
<text x="602.05" y="147.00" font-size="7.40" font-weight="bold" font-style="italic" text-anchor="middle" fill="#1a1a1a" textLength="3.33" lengthAdjust="spacingAndGlyphs" >7</text>
<text x="631.90" y="147.00" font-size="7.40" font-weight="bold" font-style="italic" text-anchor="middle" fill="#1a1a1a" textLength="3.33" lengthAdjust="spacingAndGlyphs" >8</text>
<text x="661.75" y="147.00" font-size="7.40" font-weight="bold" font-style="italic" text-anchor="middle" fill="#1a1a1a" textLength="3.33" lengthAdjust="spacingAndGlyphs" >9</text>
<text transform="translate(466.20,73.40) rotate(-90)" x="0" y="0" font-size="11.40" font-weight="bold" font-style="italic" text-anchor="middle" textLength="70.20" lengthAdjust="spacingAndGlyphs">Potential, E (V)</text>
<text x="587.30" y="162.30" font-size="13.50" font-weight="bold" font-style="italic" text-anchor="start" fill="#000" textLength="14.40" lengthAdjust="spacingAndGlyphs" >pH</text>
<rect x="473.30" y="164.00" width="14.70" height="14.80" fill="#ffff00"/>
<text x="480.85" y="175.60" font-size="12.20" font-weight="bold" font-style="italic" text-anchor="middle" fill="#000" textLength="14.10" lengthAdjust="spacingAndGlyphs" >(c)</text>
<text x="552.6" y="18.7" font-size="9.6" font-weight="bold" textLength="113.4" lengthAdjust="spacingAndGlyphs"><tspan font-style="italic">Epa</tspan> (V) = &#8722;0.0580*pH + 0.412</text>
<path d="M512.50,11.40V48.20M511.20,11.40H513.80M511.20,48.20H513.80" stroke="#1a1a1a" stroke-width="1.2" fill="none"/>
<path d="M542.35,28.40V64.00M541.05,28.40H543.65M541.05,64.00H543.65" stroke="#1a1a1a" stroke-width="1.2" fill="none"/>
<path d="M572.20,45.30V79.90M570.90,45.30H573.50M570.90,79.90H573.50" stroke="#1a1a1a" stroke-width="1.2" fill="none"/>
<path d="M602.05,62.20V95.80M600.75,62.20H603.35M600.75,95.80H603.35" stroke="#1a1a1a" stroke-width="1.2" fill="none"/>
<path d="M631.90,79.60V111.20M630.60,79.60H633.20M630.60,111.20H633.20" stroke="#1a1a1a" stroke-width="1.2" fill="none"/>
<path d="M661.75,96.80V126.80M660.45,96.80H663.05M660.45,126.80H663.05" stroke="#1a1a1a" stroke-width="1.2" fill="none"/>
<circle cx="512.50" cy="29.80" r="5.5" fill="url(#gc_blue)"/>
<circle cx="542.35" cy="46.20" r="5.5" fill="url(#gc_dblue)"/>
<circle cx="572.20" cy="62.60" r="5.5" fill="url(#gc_green)"/>
<circle cx="602.05" cy="79.00" r="5.5" fill="url(#gc_lgreen)"/>
<circle cx="631.90" cy="95.40" r="5.5" fill="url(#gc_orange)"/>
<circle cx="661.75" cy="111.80" r="5.5" fill="url(#gc_red)"/>
<path d="M512.50,29.80L661.75,111.80" stroke="#ff0000" stroke-width="1.9"/>
<rect x="62.30" y="198.30" width="177.30" height="142.70" fill="none" stroke="#222" stroke-width="1.30"/>
<path d="M62.30,208.40H60.10M62.30,228.80H60.10M62.30,249.20H60.10M62.30,269.60H60.10M62.30,290.00H60.10M62.30,310.40H60.10M62.30,330.80H60.10" stroke="#222" stroke-width="1.20" fill="none"/>
<text x="58.40" y="211.30" font-size="8.40" font-weight="bold" font-style="italic" text-anchor="end" fill="#1a1a1a" textLength="24.86" lengthAdjust="spacingAndGlyphs" >2.0&#215;10<tspan font-size="4.00" dy="-3.3">-5</tspan></text>
<text x="58.40" y="231.70" font-size="8.40" font-weight="bold" font-style="italic" text-anchor="end" fill="#1a1a1a" textLength="24.86" lengthAdjust="spacingAndGlyphs" >1.5&#215;10<tspan font-size="4.00" dy="-3.3">-5</tspan></text>
<text x="58.40" y="252.10" font-size="8.40" font-weight="bold" font-style="italic" text-anchor="end" fill="#1a1a1a" textLength="24.86" lengthAdjust="spacingAndGlyphs" >1.0&#215;10<tspan font-size="4.00" dy="-3.3">-5</tspan></text>
<text x="58.40" y="272.50" font-size="8.40" font-weight="bold" font-style="italic" text-anchor="end" fill="#1a1a1a" textLength="24.86" lengthAdjust="spacingAndGlyphs" >5.0&#215;10<tspan font-size="4.00" dy="-3.3">-6</tspan></text>
<text x="58.40" y="292.90" font-size="8.40" font-weight="bold" font-style="italic" text-anchor="end" fill="#1a1a1a" textLength="9.66" lengthAdjust="spacingAndGlyphs" >0.0</text>
<text x="58.40" y="313.30" font-size="8.40" font-weight="bold" font-style="italic" text-anchor="end" fill="#1a1a1a" textLength="27.43" lengthAdjust="spacingAndGlyphs" >-5.0&#215;10<tspan font-size="4.00" dy="-3.3">-6</tspan></text>
<text x="58.40" y="333.70" font-size="8.40" font-weight="bold" font-style="italic" text-anchor="end" fill="#1a1a1a" textLength="27.43" lengthAdjust="spacingAndGlyphs" >-1.0&#215;10<tspan font-size="4.00" dy="-3.3">-5</tspan></text>
<path d="M62.30,341.00V343.20M94.55,341.00V343.20M126.80,341.00V343.20M159.05,341.00V343.20M191.30,341.00V343.20M223.55,341.00V343.20" stroke="#222" stroke-width="1.20" fill="none"/>
<text x="62.30" y="352.00" font-size="7.80" font-weight="bold" font-style="italic" text-anchor="middle" fill="#1a1a1a" textLength="11.11" lengthAdjust="spacingAndGlyphs" >-0.2</text>
<text x="94.55" y="352.00" font-size="7.80" font-weight="bold" font-style="italic" text-anchor="middle" fill="#1a1a1a" textLength="8.78" lengthAdjust="spacingAndGlyphs" >0.0</text>
<text x="126.80" y="352.00" font-size="7.80" font-weight="bold" font-style="italic" text-anchor="middle" fill="#1a1a1a" textLength="8.78" lengthAdjust="spacingAndGlyphs" >0.2</text>
<text x="159.05" y="352.00" font-size="7.80" font-weight="bold" font-style="italic" text-anchor="middle" fill="#1a1a1a" textLength="8.78" lengthAdjust="spacingAndGlyphs" >0.4</text>
<text x="191.30" y="352.00" font-size="7.80" font-weight="bold" font-style="italic" text-anchor="middle" fill="#1a1a1a" textLength="8.78" lengthAdjust="spacingAndGlyphs" >0.6</text>
<text x="223.55" y="352.00" font-size="7.80" font-weight="bold" font-style="italic" text-anchor="middle" fill="#1a1a1a" textLength="8.78" lengthAdjust="spacingAndGlyphs" >0.8</text>
<text transform="translate(27.00,274.10) rotate(-90)" x="0" y="0" font-size="11.00" font-weight="bold" font-style="italic" text-anchor="middle" textLength="65.00" lengthAdjust="spacingAndGlyphs">Current, I (A)</text>
<text x="110.20" y="366.00" font-size="12.60" font-weight="bold" font-style="italic" text-anchor="start" fill="#000" textLength="76.70" lengthAdjust="spacingAndGlyphs" >Potential, E (V)</text>
<rect x="8.00" y="352.50" width="15.10" height="13.50" fill="#ffff00"/>
<text x="15.75" y="362.80" font-size="12.20" font-weight="bold" font-style="italic" text-anchor="middle" fill="#000" textLength="14.50" lengthAdjust="spacingAndGlyphs" >(d)</text>
<rect x="64.80" y="207.4" width="2.4" height="1.6" fill="#111"/>
<rect x="75.50" y="207.4" width="2.4" height="1.6" fill="#111"/>
<text x="84.50" y="210.40" font-size="8.20" font-weight="bold" font-style="italic" text-anchor="start" fill="#000" textLength="14.50" lengthAdjust="spacingAndGlyphs" >WE1</text>
<path d="M65.2,216.9H82.1" stroke="#1ed41e" stroke-width="1.8"/>
<text x="83.90" y="219.80" font-size="8.20" font-weight="bold" font-style="italic" text-anchor="start" fill="#000" textLength="31.50" lengthAdjust="spacingAndGlyphs" >EZO-ME1</text>
<rect x="77.65" y="289.35" width="2.5" height="1.5" fill="#111"/>
<rect x="88.15" y="289.35" width="2.5" height="1.5" fill="#111"/>
<rect x="98.75" y="289.35" width="2.5" height="1.5" fill="#111"/>
<rect x="109.25" y="289.35" width="2.5" height="1.5" fill="#111"/>
<rect x="119.75" y="289.25" width="2.5" height="1.5" fill="#111"/>
<rect x="130.25" y="289.05" width="2.5" height="1.5" fill="#111"/>
<rect x="140.65" y="288.65" width="2.5" height="1.5" fill="#111"/>
<rect x="151.05" y="286.15" width="2.5" height="1.5" fill="#111"/>
<rect x="161.45" y="283.85" width="2.5" height="1.5" fill="#111"/>
<rect x="171.85" y="284.25" width="2.5" height="1.5" fill="#111"/>
<rect x="182.25" y="284.55" width="2.5" height="1.5" fill="#111"/>
<rect x="190.65" y="284.55" width="2.5" height="1.5" fill="#111"/>
<rect x="201.05" y="283.85" width="2.5" height="1.5" fill="#111"/>
<rect x="211.45" y="283.15" width="2.5" height="1.5" fill="#111"/>
<rect x="221.15" y="282.45" width="2.5" height="1.5" fill="#111"/>
<rect x="77.65" y="291.35" width="2.5" height="1.5" fill="#111"/>
<rect x="88.15" y="291.35" width="2.5" height="1.5" fill="#111"/>
<rect x="98.75" y="291.35" width="2.5" height="1.5" fill="#111"/>
<rect x="109.25" y="291.35" width="2.5" height="1.5" fill="#111"/>
<rect x="119.75" y="291.35" width="2.5" height="1.5" fill="#111"/>
<rect x="130.25" y="291.35" width="2.5" height="1.5" fill="#111"/>
<rect x="140.65" y="290.75" width="2.5" height="1.5" fill="#111"/>
<rect x="148.35" y="289.75" width="2.5" height="1.5" fill="#111"/>
<rect x="158.75" y="288.65" width="2.5" height="1.5" fill="#111"/>
<rect x="169.55" y="287.95" width="2.5" height="1.5" fill="#111"/>
<rect x="180.25" y="287.25" width="2.5" height="1.5" fill="#111"/>
<rect x="190.65" y="287.05" width="2.5" height="1.5" fill="#111"/>
<rect x="201.05" y="286.55" width="2.5" height="1.5" fill="#111"/>
<rect x="211.45" y="285.85" width="2.5" height="1.5" fill="#111"/>
<path d="M78.30,298.50 C78.35,297.67 78.32,294.83 78.60,293.50 C78.88,292.17 79.10,291.48 80.00,290.50 C80.90,289.52 82.33,288.52 84.00,287.60 C85.67,286.68 87.33,285.83 90.00,285.00 C92.67,284.17 96.67,283.27 100.00,282.60 C103.33,281.93 106.67,281.45 110.00,281.00 C113.33,280.55 116.67,280.20 120.00,279.90 C123.33,279.60 127.07,279.58 130.00,279.20 C132.93,278.82 135.68,278.38 137.60,277.60 C139.52,276.82 140.43,275.82 141.50,274.50 C142.57,273.18 143.17,271.70 144.00,269.70 C144.83,267.70 145.67,265.03 146.50,262.50 C147.33,259.97 148.17,257.25 149.00,254.50 C149.83,251.75 150.65,248.97 151.50,246.00 C152.35,243.03 153.30,239.37 154.10,236.70 C154.90,234.03 155.67,231.68 156.30,230.00 C156.93,228.32 157.28,227.38 157.90,226.60 C158.52,225.82 159.35,225.37 160.00,225.30 C160.65,225.23 161.08,225.57 161.80,226.20 C162.52,226.83 163.35,228.10 164.30,229.10 C165.25,230.10 166.45,231.35 167.50,232.20 C168.55,233.05 169.18,233.52 170.60,234.20 C172.02,234.88 173.88,235.80 176.00,236.30 C178.12,236.80 180.97,237.18 183.30,237.20 C185.63,237.22 187.88,236.83 190.00,236.40 C192.12,235.97 193.92,235.42 196.00,234.60 C198.08,233.78 200.38,232.63 202.50,231.50 C204.62,230.37 206.87,229.12 208.70,227.80 C210.53,226.48 212.02,225.07 213.50,223.60 C214.98,222.13 216.43,220.35 217.60,219.00 C218.77,217.65 219.67,216.57 220.50,215.50 C221.33,214.43 222.25,213.08 222.60,212.60 M222.60,212.60 C222.70,213.87 223.13,217.63 223.20,220.20 C223.27,222.77 223.10,225.45 223.00,228.00 C222.90,230.55 222.83,232.83 222.60,235.50 C222.37,238.17 222.02,241.25 221.60,244.00 C221.18,246.75 220.70,249.42 220.10,252.00 C219.50,254.58 218.85,257.18 218.00,259.50 C217.15,261.82 216.17,264.02 215.00,265.90 C213.83,267.78 212.48,269.40 211.00,270.80 C209.52,272.20 207.93,273.30 206.10,274.30 C204.27,275.30 202.10,276.08 200.00,276.80 C197.90,277.52 195.67,278.03 193.50,278.60 C191.33,279.17 189.12,279.65 187.00,280.20 C184.88,280.75 182.97,281.18 180.80,281.90 C178.63,282.62 176.12,283.60 174.00,284.50 C171.88,285.40 170.02,286.30 168.10,287.30 C166.18,288.30 164.20,289.38 162.50,290.50 C160.80,291.62 159.52,292.42 157.90,294.00 C156.28,295.58 154.37,297.92 152.80,300.00 C151.23,302.08 149.88,304.42 148.50,306.50 C147.12,308.58 145.83,310.67 144.50,312.50 C143.17,314.33 142.05,316.08 140.50,317.50 C138.95,318.92 137.28,319.98 135.20,321.00 C133.12,322.02 130.53,323.00 128.00,323.60 C125.47,324.20 123.00,324.32 120.00,324.60 C117.00,324.88 113.33,325.12 110.00,325.30 C106.67,325.48 103.33,325.55 100.00,325.70 C96.67,325.85 93.62,326.02 90.00,326.20 C86.38,326.38 80.25,326.70 78.30,326.80" fill="none" stroke="#1ed41e" stroke-width="1.9" stroke-linejoin="round"/>
<rect x="292.60" y="200.30" width="170.60" height="136.80" fill="none" stroke="#222" stroke-width="1.30"/>
<path d="M292.60,212.40H290.40M292.60,237.30H290.40M292.60,262.30H290.40M292.60,287.20H290.40M292.60,312.20H290.40M292.60,337.10H290.40" stroke="#222" stroke-width="1.20" fill="none"/>
<text x="288.50" y="215.00" font-size="7.00" font-weight="bold" font-style="italic" text-anchor="end" fill="#1a1a1a" textLength="23.53" lengthAdjust="spacingAndGlyphs" >6.0&#215;10<tspan font-size="4.00" dy="-3.3">-5</tspan></text>
<text x="288.50" y="239.90" font-size="7.00" font-weight="bold" font-style="italic" text-anchor="end" fill="#1a1a1a" textLength="23.53" lengthAdjust="spacingAndGlyphs" >4.0&#215;10<tspan font-size="4.00" dy="-3.3">-5</tspan></text>
<text x="288.50" y="264.90" font-size="7.00" font-weight="bold" font-style="italic" text-anchor="end" fill="#1a1a1a" textLength="23.53" lengthAdjust="spacingAndGlyphs" >2.0&#215;10<tspan font-size="4.00" dy="-3.3">-5</tspan></text>
<text x="288.50" y="289.80" font-size="7.00" font-weight="bold" font-style="italic" text-anchor="end" fill="#1a1a1a" textLength="8.93" lengthAdjust="spacingAndGlyphs" >0.0</text>
<text x="288.50" y="314.80" font-size="7.00" font-weight="bold" font-style="italic" text-anchor="end" fill="#1a1a1a" textLength="25.91" lengthAdjust="spacingAndGlyphs" >-2.0&#215;10<tspan font-size="4.00" dy="-3.3">-5</tspan></text>
<text x="288.50" y="339.70" font-size="7.00" font-weight="bold" font-style="italic" text-anchor="end" fill="#1a1a1a" textLength="25.91" lengthAdjust="spacingAndGlyphs" >-4.0&#215;10<tspan font-size="4.00" dy="-3.3">-5</tspan></text>
<path d="M292.60,337.10V339.30M323.40,337.10V339.30M354.20,337.10V339.30M385.00,337.10V339.30M415.80,337.10V339.30M446.60,337.10V339.30" stroke="#222" stroke-width="1.20" fill="none"/>
<text x="292.60" y="347.20" font-size="7.00" font-weight="bold" font-style="italic" text-anchor="middle" fill="#1a1a1a" textLength="11.08" lengthAdjust="spacingAndGlyphs" >-0.2</text>
<text x="323.40" y="347.20" font-size="7.00" font-weight="bold" font-style="italic" text-anchor="middle" fill="#1a1a1a" textLength="8.75" lengthAdjust="spacingAndGlyphs" >0.0</text>
<text x="354.20" y="347.20" font-size="7.00" font-weight="bold" font-style="italic" text-anchor="middle" fill="#1a1a1a" textLength="8.75" lengthAdjust="spacingAndGlyphs" >0.2</text>
<text x="385.00" y="347.20" font-size="7.00" font-weight="bold" font-style="italic" text-anchor="middle" fill="#1a1a1a" textLength="8.75" lengthAdjust="spacingAndGlyphs" >0.4</text>
<text x="415.80" y="347.20" font-size="7.00" font-weight="bold" font-style="italic" text-anchor="middle" fill="#1a1a1a" textLength="8.75" lengthAdjust="spacingAndGlyphs" >0.6</text>
<text x="446.60" y="347.20" font-size="7.00" font-weight="bold" font-style="italic" text-anchor="middle" fill="#1a1a1a" textLength="8.75" lengthAdjust="spacingAndGlyphs" >0.8</text>
<text transform="translate(256.90,276.00) rotate(-90)" x="0" y="0" font-size="11.00" font-weight="bold" font-style="italic" text-anchor="middle" textLength="64.00" lengthAdjust="spacingAndGlyphs">Current, I (A)</text>
<text x="342.20" y="366.00" font-size="12.40" font-weight="bold" font-style="italic" text-anchor="start" fill="#000" textLength="73.30" lengthAdjust="spacingAndGlyphs" >Potential, E (V)</text>
<rect x="242.00" y="352.30" width="14.30" height="13.60" fill="#ffff00"/>
<text x="249.35" y="362.70" font-size="12.20" font-weight="bold" font-style="italic" text-anchor="middle" fill="#000" textLength="13.70" lengthAdjust="spacingAndGlyphs" >(e)</text>
<rect x="508.40" y="205.40" width="175.10" height="140.00" fill="none" stroke="#222" stroke-width="1.30"/>
<path d="M508.40,205.40H506.20M508.40,233.40H506.20M508.40,261.40H506.20M508.40,289.40H506.20M508.40,317.40H506.20M508.40,345.40H506.20" stroke="#222" stroke-width="1.20" fill="none"/>
<text x="504.90" y="208.20" font-size="8.00" font-weight="bold" font-style="italic" text-anchor="end" fill="#1a1a1a" textLength="7.20" lengthAdjust="spacingAndGlyphs" >60</text>
<text x="504.90" y="236.20" font-size="8.00" font-weight="bold" font-style="italic" text-anchor="end" fill="#1a1a1a" textLength="7.20" lengthAdjust="spacingAndGlyphs" >40</text>
<text x="504.90" y="264.20" font-size="8.00" font-weight="bold" font-style="italic" text-anchor="end" fill="#1a1a1a" textLength="7.20" lengthAdjust="spacingAndGlyphs" >20</text>
<text x="504.90" y="292.20" font-size="8.00" font-weight="bold" font-style="italic" text-anchor="end" fill="#1a1a1a" textLength="3.60" lengthAdjust="spacingAndGlyphs" >0</text>
<text x="504.90" y="320.20" font-size="8.00" font-weight="bold" font-style="italic" text-anchor="end" fill="#1a1a1a" textLength="9.60" lengthAdjust="spacingAndGlyphs" >-20</text>
<text x="504.90" y="348.20" font-size="8.00" font-weight="bold" font-style="italic" text-anchor="end" fill="#1a1a1a" textLength="9.60" lengthAdjust="spacingAndGlyphs" >-40</text>
<path d="M508.40,345.40V347.60M540.22,345.40V347.60M572.04,345.40V347.60M603.86,345.40V347.60M635.68,345.40V347.60M667.50,345.40V347.60" stroke="#222" stroke-width="1.20" fill="none"/>
<text x="508.40" y="356.00" font-size="7.90" font-weight="bold" font-style="italic" text-anchor="middle" fill="#1a1a1a" textLength="3.79" lengthAdjust="spacingAndGlyphs" >0</text>
<text x="540.22" y="356.00" font-size="7.90" font-weight="bold" font-style="italic" text-anchor="middle" fill="#1a1a1a" textLength="11.38" lengthAdjust="spacingAndGlyphs" >100</text>
<text x="572.04" y="356.00" font-size="7.90" font-weight="bold" font-style="italic" text-anchor="middle" fill="#1a1a1a" textLength="11.38" lengthAdjust="spacingAndGlyphs" >200</text>
<text x="603.86" y="356.00" font-size="7.90" font-weight="bold" font-style="italic" text-anchor="middle" fill="#1a1a1a" textLength="11.38" lengthAdjust="spacingAndGlyphs" >300</text>
<text x="635.68" y="356.00" font-size="7.90" font-weight="bold" font-style="italic" text-anchor="middle" fill="#1a1a1a" textLength="11.38" lengthAdjust="spacingAndGlyphs" >400</text>
<text x="667.50" y="356.00" font-size="7.90" font-weight="bold" font-style="italic" text-anchor="middle" fill="#1a1a1a" textLength="11.38" lengthAdjust="spacingAndGlyphs" >500</text>
<text transform="translate(483.30,279.80) rotate(-90)" x="0" y="0" font-size="11.00" font-weight="bold" font-style="italic" text-anchor="middle" textLength="74.80" lengthAdjust="spacingAndGlyphs">Current, I (<tspan font-style="normal" font-weight="normal">&#956;</tspan>A)</text>
<text x="572.9" y="370.2" font-size="11.8" textLength="45.4" lengthAdjust="spacingAndGlyphs"><tspan font-weight="normal">&#957;</tspan><tspan font-weight="bold" font-style="italic"> (mV/ s)</tspan></text>
<rect x="473.10" y="352.30" width="14.00" height="13.60" fill="#ffff00"/>
<text x="480.30" y="362.70" font-size="12.20" font-weight="bold" font-style="italic" text-anchor="middle" fill="#000" textLength="13.40" lengthAdjust="spacingAndGlyphs" >(f)</text>
<path d="M446.80,266.20 L446.79,266.34 L446.77,266.52 L446.75,266.73 L446.73,266.98 L446.71,267.23 L446.68,267.49 L446.64,267.75 L446.60,268.00 L446.55,268.24 L446.51,268.49 L446.45,268.74 L446.39,268.99 L446.33,269.24 L446.26,269.50 L446.18,269.75 L446.10,270.00 L446.01,270.25 L445.91,270.50 L445.81,270.75 L445.71,271.00 L445.59,271.25 L445.47,271.50 L445.34,271.75 L445.20,272.00 L445.05,272.25 L444.90,272.50 L444.74,272.76 L444.57,273.01 L444.39,273.26 L444.20,273.51 L444.01,273.76 L443.80,274.00 L443.58,274.24 L443.36,274.47 L443.13,274.71 L442.89,274.94 L442.63,275.16 L442.37,275.38 L442.09,275.60 L441.80,275.80 L441.49,276.00 L441.17,276.19 L440.84,276.37 L440.49,276.54 L440.14,276.71 L439.77,276.88 L439.39,277.04 L439.00,277.20 L438.61,277.35 L438.22,277.50" fill="none" stroke="#22ee00" stroke-width="1.30" stroke-linejoin="round"/>
<path d="M438.22,277.50 L437.83,277.64 L437.42,277.78 L436.99,277.92 L436.53,278.05 L436.04,278.17 L435.50,278.30 L434.92,278.42 L434.29,278.55 L433.63,278.67 L432.94,278.78 L432.23,278.89 L431.50,279.00 L430.75,279.10 L430.00,279.20 L429.34,279.27 L428.81,279.32 L428.33,279.35 L427.79,279.39 L427.12,279.43 L426.23,279.51 L425.02,279.63 L423.40,279.80 L421.22,280.04 L418.48,280.33 L415.37,280.67 L412.06,281.04 L408.73,281.42 L405.56,281.80 L402.73,282.16 L400.40,282.50 L398.57,282.82 L397.06,283.14 L395.81,283.47 L394.75,283.78 L393.82,284.09 L392.97,284.38 L392.11,284.65 L391.20,284.90" fill="none" stroke="#88ff00" stroke-width="1.30" stroke-linejoin="round"/>
<path d="M391.20,284.90 L390.28,285.12 L389.42,285.31 L388.62,285.49 L387.86,285.64 L387.13,285.80 L386.42,285.95 L385.72,286.12 L385.00,286.30 L384.28,286.48 L383.58,286.65 L382.89,286.82 L382.22,286.99 L381.55,287.19 L380.90,287.41 L380.25,287.68 L379.60,288.00" fill="none" stroke="#ffff00" stroke-width="1.30" stroke-linejoin="round"/>
<path d="M379.60,288.00 L378.96,288.39 L378.34,288.84 L377.72,289.35 L377.11,289.88 L376.50,290.41 L375.90,290.94 L375.30,291.45 L374.70,291.90 L374.13,292.31 L373.59,292.71 L373.07,293.09" fill="none" stroke="#ff8800" stroke-width="1.30" stroke-linejoin="round"/>
<path d="M373.07,293.09 L372.55,293.45 L372.00,293.80 L371.41,294.14 L370.75,294.47 L370.00,294.80 L369.15,295.13 L368.22,295.47 L367.22,295.81 L366.17,296.14 L365.09,296.44 L364.01,296.71 L362.94,296.93 L361.90,297.10 L360.91,297.20 L359.96,297.24 L359.03,297.24 L358.09,297.20 L357.11,297.14 L356.07,297.08 L354.94,297.03 L353.70,297.00 L352.32,296.99 L350.82,296.98 L349.24,296.97 L347.59,296.96 L345.91,296.95 L344.23,296.94 L342.58,296.92 L341.00,296.90 L339.46,296.87 L337.93,296.84 L336.40,296.81 L334.89,296.78 L333.40,296.74 L331.91,296.69 L330.45,296.65 L329.00,296.60 L327.57,296.55 L326.16,296.49 L324.76,296.43 L323.38,296.36 L322.01,296.30 L320.66,296.23 L319.32,296.16 L318.00,296.10 L316.63,296.03 L315.20,295.96 L313.74,295.89 L312.31,295.82 L310.97,295.75 L309.77,295.69 L308.76,295.64 L308.00,295.60" fill="none" stroke="#ff0000" stroke-width="1.30" stroke-linejoin="round"/>
<path d="M446.80,261.11 L446.79,261.36 L446.77,261.69 L446.75,262.09 L446.73,262.53 L446.71,262.99 L446.68,263.46 L446.64,263.91 L446.60,264.33 L446.55,264.73 L446.50,265.13 L446.45,265.52 L446.39,265.92 L446.33,266.31 L446.26,266.69 L446.18,267.07 L446.09,267.44 L445.99,267.81 L445.89,268.17 L445.79,268.52 L445.67,268.87 L445.55,269.21 L445.42,269.55 L445.28,269.89 L445.13,270.22 L444.98,270.55 L444.81,270.88 L444.64,271.21 L444.46,271.53 L444.27,271.85 L444.07,272.16 L443.86,272.47 L443.64,272.78 L443.42,273.08 L443.19,273.37 L442.96,273.67 L442.71,273.95 L442.46,274.24 L442.19,274.51 L441.91,274.78 L441.62,275.04 L441.32,275.30 L441.01,275.55 L440.68,275.79 L440.35,276.02 L440.00,276.25 L439.64,276.47 L439.27,276.69 L438.89,276.90 L438.50,277.10 L438.12,277.30" fill="none" stroke="#22ee00" stroke-width="1.30" stroke-linejoin="round"/>
<path d="M438.12,277.30 L437.73,277.50 L437.33,277.68 L436.91,277.86 L436.45,278.04 L435.96,278.21 L435.42,278.38 L434.84,278.54 L434.21,278.70 L433.54,278.86 L432.84,279.01 L432.12,279.16 L431.39,279.30 L430.64,279.42 L429.89,279.54 L429.24,279.64 L428.72,279.70 L428.25,279.74 L427.74,279.78 L427.08,279.83 L426.21,279.91 L425.01,280.03 L423.40,280.21 L421.22,280.45 L418.49,280.75 L415.38,281.09 L412.07,281.45 L408.74,281.83 L405.57,282.21 L402.73,282.58 L400.40,282.93 L398.57,283.27 L397.06,283.62 L395.81,283.96 L394.75,284.31 L393.82,284.64 L392.97,284.97 L392.11,285.28 L391.20,285.57" fill="none" stroke="#88ff00" stroke-width="1.30" stroke-linejoin="round"/>
<path d="M391.20,285.57 L390.28,285.83 L389.42,286.07 L388.62,286.29 L387.86,286.51 L387.13,286.72 L386.42,286.93 L385.72,287.14 L385.00,287.38 L384.28,287.61 L383.58,287.83 L382.89,288.05 L382.22,288.27 L381.55,288.51 L380.90,288.78 L380.25,289.09 L379.60,289.44" fill="none" stroke="#ffff00" stroke-width="1.30" stroke-linejoin="round"/>
<path d="M379.60,289.44 L378.96,289.87 L378.34,290.35 L377.72,290.88 L377.11,291.43 L376.50,291.99 L375.90,292.54 L375.30,293.06 L374.70,293.52 L374.13,293.94 L373.59,294.33 L373.07,294.70" fill="none" stroke="#ff8800" stroke-width="1.30" stroke-linejoin="round"/>
<path d="M373.07,294.70 L372.55,295.06 L372.00,295.40 L371.41,295.74 L370.75,296.08 L370.00,296.42 L369.15,296.79 L368.22,297.17 L367.22,297.56 L366.17,297.94 L365.09,298.30 L364.01,298.63 L362.94,298.92 L361.90,299.14 L360.91,299.30 L359.96,299.40 L359.03,299.45 L358.09,299.48 L357.11,299.48 L356.07,299.48 L354.94,299.49 L353.70,299.52 L352.32,299.58 L350.82,299.64 L349.24,299.70 L347.59,299.77 L345.91,299.83 L344.23,299.89 L342.58,299.93 L341.00,299.97 L339.46,299.99 L337.93,300.01 L336.40,300.02 L334.89,300.03 L333.40,300.03 L331.91,300.02 L330.45,300.00 L329.00,299.97 L327.57,299.93 L326.16,299.87 L324.76,299.81 L323.38,299.74 L322.01,299.66 L320.66,299.58 L319.32,299.50 L318.00,299.42 L316.63,299.33 L315.20,299.23 L313.74,299.13 L312.31,299.02 L310.97,298.92 L309.77,298.83 L308.76,298.75 L308.00,298.69" fill="none" stroke="#ff0000" stroke-width="1.30" stroke-linejoin="round"/>
<path d="M446.80,256.02 L446.79,256.38 L446.77,256.87" fill="none" stroke="#00e5ff" stroke-width="1.30" stroke-linejoin="round"/>
<path d="M446.77,256.87 L446.75,257.44 L446.73,258.08 L446.71,258.75 L446.68,259.43 L446.64,260.07 L446.60,260.67 L446.55,261.22 L446.50,261.77 L446.45,262.31 L446.39,262.85 L446.32,263.37 L446.25,263.89 L446.17,264.40 L446.08,264.89 L445.98,265.37 L445.87,265.84 L445.76,266.29 L445.64,266.74 L445.51,267.17 L445.37,267.60 L445.22,268.03 L445.07,268.44 L444.90,268.86 L444.72,269.26 L444.54,269.66 L444.34,270.05 L444.14,270.44 L443.93,270.81 L443.71,271.19 L443.49,271.56 L443.26,271.92 L443.03,272.28 L442.78,272.63 L442.53,272.97 L442.28,273.31 L442.01,273.64 L441.73,273.97 L441.44,274.29 L441.15,274.60 L440.84,274.91 L440.52,275.21 L440.20,275.50 L439.86,275.79 L439.51,276.06 L439.15,276.34 L438.78,276.60 L438.40,276.86 L438.02,277.11" fill="none" stroke="#22ee00" stroke-width="1.30" stroke-linejoin="round"/>
<path d="M438.02,277.11 L437.64,277.35 L437.24,277.58 L436.82,277.81 L436.37,278.03 L435.88,278.25 L435.34,278.46 L434.76,278.66 L434.12,278.86 L433.45,279.05 L432.75,279.24 L432.02,279.42 L431.28,279.59 L430.53,279.75 L429.78,279.89 L429.13,280.00 L428.63,280.07 L428.18,280.13 L427.68,280.17 L427.04,280.23 L426.18,280.31 L425.00,280.44 L423.40,280.62 L421.23,280.87 L418.50,281.16 L415.39,281.50 L412.08,281.86 L408.74,282.24 L405.57,282.62 L402.73,283.00 L400.40,283.37 L398.57,283.72 L397.06,284.09 L395.81,284.46 L394.75,284.83 L393.82,285.20 L392.97,285.56 L392.11,285.91 L391.20,286.23" fill="none" stroke="#88ff00" stroke-width="1.30" stroke-linejoin="round"/>
<path d="M391.20,286.23 L390.28,286.54 L389.42,286.83 L388.62,287.10 L387.86,287.37 L387.13,287.64 L386.42,287.90 L385.72,288.17 L385.00,288.46 L384.28,288.74 L383.58,289.01 L382.89,289.27 L382.22,289.55 L381.55,289.83 L380.90,290.15 L380.25,290.50 L379.60,290.89" fill="none" stroke="#ffff00" stroke-width="1.30" stroke-linejoin="round"/>
<path d="M379.60,290.89 L378.96,291.34 L378.34,291.86 L377.72,292.41 L377.11,292.99 L376.50,293.57 L375.90,294.13 L375.30,294.66 L374.70,295.14 L374.13,295.57 L373.59,295.96 L373.07,296.32" fill="none" stroke="#ff8800" stroke-width="1.30" stroke-linejoin="round"/>
<path d="M373.07,296.32 L372.55,296.66 L372.00,297.00 L371.41,297.33 L370.75,297.68 L370.00,298.04 L369.15,298.44 L368.22,298.87 L367.22,299.31 L366.17,299.74 L365.09,300.17 L364.01,300.56 L362.94,300.90 L361.90,301.19 L360.91,301.40 L359.96,301.56 L359.03,301.67 L358.09,301.75 L357.11,301.81 L356.07,301.87 L354.94,301.95 L353.70,302.04 L352.32,302.17 L350.82,302.30 L349.24,302.44 L347.59,302.57 L345.91,302.71 L344.23,302.83 L342.58,302.94 L341.00,303.03 L339.46,303.11 L337.93,303.18 L336.40,303.24 L334.89,303.28 L333.40,303.32 L331.91,303.34 L330.45,303.34 L329.00,303.33 L327.57,303.30 L326.16,303.26 L324.76,303.19 L323.38,303.12 L322.01,303.03 L320.66,302.94 L319.32,302.84 L318.00,302.74 L316.63,302.64 L315.20,302.51 L313.74,302.37 L312.31,302.22 L310.97,302.09 L309.77,301.96 L308.76,301.85 L308.00,301.78" fill="none" stroke="#ff0000" stroke-width="1.30" stroke-linejoin="round"/>
<path d="M446.80,250.93 L446.79,251.41 L446.77,252.04 L446.75,252.80 L446.73,253.63 L446.71,254.51 L446.68,255.39 L446.64,256.24 L446.60,257.00" fill="none" stroke="#00e5ff" stroke-width="1.30" stroke-linejoin="round"/>
<path d="M446.60,257.00 L446.55,257.71 L446.50,258.41 L446.45,259.10 L446.39,259.77 L446.32,260.44 L446.25,261.09 L446.16,261.72 L446.07,262.33 L445.96,262.93 L445.85,263.50 L445.73,264.06 L445.60,264.60 L445.47,265.13 L445.32,265.65 L445.17,266.16 L445.00,266.67 L444.82,267.16 L444.63,267.64 L444.44,268.11 L444.23,268.57 L444.01,269.02 L443.79,269.47 L443.56,269.90 L443.33,270.33 L443.10,270.76 L442.86,271.18 L442.61,271.59 L442.36,271.99 L442.10,272.39 L441.83,272.77 L441.55,273.16 L441.27,273.53 L440.97,273.90 L440.67,274.27 L440.37,274.63 L440.05,274.98 L439.72,275.32 L439.39,275.66 L439.03,275.98 L438.67,276.30 L438.29,276.61" fill="none" stroke="#22ee00" stroke-width="1.30" stroke-linejoin="round"/>
<path d="M438.29,276.61 L437.92,276.91 L437.55,277.20 L437.15,277.48 L436.74,277.76 L436.29,278.03 L435.80,278.28 L435.27,278.53 L434.68,278.78 L434.04,279.02 L433.36,279.25 L432.65,279.47 L431.91,279.69 L431.17,279.88 L430.41,280.07 L429.67,280.23 L429.03,280.36 L428.54,280.45 L428.10,280.51 L427.62,280.57 L427.00,280.63 L426.16,280.72 L424.99,280.85 L423.40,281.03 L421.23,281.28 L418.50,281.58 L415.39,281.91 L412.08,282.27 L408.75,282.65 L405.57,283.04 L402.73,283.42 L400.40,283.80 L398.57,284.17 L397.06,284.56 L395.81,284.96 L394.75,285.36 L393.82,285.76 L392.97,286.15 L392.11,286.53 L391.20,286.90" fill="none" stroke="#88ff00" stroke-width="1.30" stroke-linejoin="round"/>
<path d="M391.20,286.90 L390.28,287.25 L389.42,287.59 L388.62,287.91 L387.86,288.24 L387.13,288.55 L386.42,288.87 L385.72,289.20 L385.00,289.53 L384.28,289.86 L383.58,290.18 L382.89,290.50 L382.22,290.82 L381.55,291.16 L380.90,291.51 L380.25,291.90 L379.60,292.33" fill="none" stroke="#ffff00" stroke-width="1.30" stroke-linejoin="round"/>
<path d="M379.60,292.33 L378.96,292.82 L378.34,293.36 L377.72,293.94 L377.11,294.54 L376.50,295.14 L375.90,295.73 L375.30,296.27 L374.70,296.77 L374.13,297.20 L373.59,297.58 L373.07,297.94" fill="none" stroke="#ff8800" stroke-width="1.30" stroke-linejoin="round"/>
<path d="M373.07,297.94 L372.55,298.27 L372.00,298.60 L371.41,298.93 L370.75,299.28 L370.00,299.67 L369.15,300.10 L368.22,300.56 L367.22,301.05 L366.17,301.55 L365.09,302.03 L364.01,302.48 L362.94,302.89 L361.90,303.23 L360.91,303.51 L359.96,303.72 L359.03,303.89 L358.09,304.03 L357.11,304.15 L356.07,304.27 L354.94,304.41 L353.70,304.57 L352.32,304.76 L350.82,304.96 L349.24,305.17 L347.59,305.38 L345.91,305.58 L344.23,305.78 L342.58,305.95 L341.00,306.10 L339.46,306.23 L337.93,306.34 L336.40,306.45 L334.89,306.54 L333.40,306.61 L331.91,306.66 L330.45,306.69 L329.00,306.70 L327.57,306.68 L326.16,306.64 L324.76,306.58 L323.38,306.50 L322.01,306.40 L320.66,306.29 L319.32,306.18 L318.00,306.07 L316.63,305.94 L315.20,305.78 L313.74,305.61 L312.31,305.43 L310.97,305.25 L309.77,305.10 L308.76,304.96 L308.00,304.87" fill="none" stroke="#ff0000" stroke-width="1.30" stroke-linejoin="round"/>
<path d="M446.80,245.84 L446.79,246.43 L446.77,247.21 L446.75,248.15 L446.73,249.19 L446.71,250.27 L446.68,251.36 L446.64,252.40 L446.60,253.33 L446.55,254.20 L446.50,255.05 L446.45,255.89 L446.39,256.70" fill="none" stroke="#00e5ff" stroke-width="1.30" stroke-linejoin="round"/>
<path d="M446.39,256.70 L446.32,257.50 L446.24,258.28 L446.15,259.04 L446.06,259.78 L445.95,260.49 L445.83,261.17 L445.70,261.83 L445.57,262.47 L445.43,263.10 L445.27,263.70 L445.11,264.30 L444.93,264.89 L444.75,265.46 L444.55,266.02 L444.34,266.56 L444.12,267.09 L443.89,267.61 L443.65,268.12 L443.42,268.62 L443.18,269.11 L442.94,269.60 L442.69,270.08 L442.44,270.55 L442.18,271.01 L441.92,271.46 L441.65,271.91 L441.37,272.34 L441.09,272.78 L440.80,273.21 L440.51,273.63 L440.21,274.05 L439.90,274.45 L439.59,274.86 L439.26,275.25 L438.92,275.63 L438.56,276.00 L438.19,276.36" fill="none" stroke="#22ee00" stroke-width="1.30" stroke-linejoin="round"/>
<path d="M438.19,276.36 L437.83,276.71 L437.45,277.05 L437.07,277.38 L436.65,277.71 L436.21,278.02 L435.72,278.32 L435.19,278.61 L434.60,278.90 L433.95,279.17 L433.27,279.44 L432.55,279.70 L431.81,279.95 L431.05,280.18 L430.30,280.39 L429.56,280.58 L428.93,280.73 L428.45,280.83 L428.03,280.90 L427.56,280.96 L426.97,281.03 L426.14,281.12 L424.98,281.25 L423.40,281.44 L421.24,281.70 L418.51,281.99 L415.40,282.33 L412.09,282.68 L408.75,283.06 L405.57,283.45 L402.73,283.85 L400.40,284.23 L398.57,284.63 L397.06,285.04 L395.81,285.46 L394.75,285.88 L393.82,286.31 L392.97,286.74 L392.11,287.16 L391.20,287.57" fill="none" stroke="#88ff00" stroke-width="1.30" stroke-linejoin="round"/>
<path d="M391.20,287.57 L390.28,287.96 L389.42,288.35 L388.62,288.72 L387.86,289.10 L387.13,289.47 L386.42,289.85 L385.72,290.23 L385.00,290.61 L384.28,290.99 L383.58,291.36 L382.89,291.73 L382.22,292.10 L381.55,292.48 L380.90,292.88 L380.25,293.31 L379.60,293.78" fill="none" stroke="#ffff00" stroke-width="1.30" stroke-linejoin="round"/>
<path d="M379.60,293.78 L378.96,294.30 L378.34,294.87 L377.72,295.48 L377.11,296.10 L376.50,296.72 L375.90,297.32 L375.30,297.88 L374.70,298.39 L374.13,298.83 L373.59,299.21 L373.07,299.55" fill="none" stroke="#ff8800" stroke-width="1.30" stroke-linejoin="round"/>
<path d="M373.07,299.55 L372.55,299.88 L372.00,300.20 L371.41,300.53 L370.75,300.89 L370.00,301.29 L369.15,301.75 L368.22,302.26 L367.22,302.80 L366.17,303.35 L365.09,303.89 L364.01,304.41 L362.94,304.88 L361.90,305.28 L360.91,305.61 L359.96,305.88 L359.03,306.10 L358.09,306.30 L357.11,306.49 L356.07,306.67 L354.94,306.86 L353.70,307.09 L352.32,307.34 L350.82,307.62 L349.24,307.90 L347.59,308.18 L345.91,308.46 L344.23,308.72 L342.58,308.96 L341.00,309.17 L339.46,309.35 L337.93,309.51 L336.40,309.66 L334.89,309.79 L333.40,309.90 L331.91,309.98 L330.45,310.04 L329.00,310.07 L327.57,310.06 L326.16,310.03 L324.76,309.96 L323.38,309.87 L322.01,309.77 L320.66,309.65 L319.32,309.52 L318.00,309.39 L316.63,309.24 L315.20,309.05 L313.74,308.84 L312.31,308.63 L310.97,308.42 L309.77,308.23 L308.76,308.07 L308.00,307.96" fill="none" stroke="#ff0000" stroke-width="1.30" stroke-linejoin="round"/>
<path d="M446.80,240.76 L446.79,241.45 L446.77,242.39 L446.76,243.50 L446.73,244.74 L446.71,246.03 L446.68,247.33 L446.64,248.56 L446.60,249.67 L446.55,250.69 L446.50,251.69 L446.45,252.67 L446.38,253.63 L446.31,254.57 L446.24,255.48 L446.15,256.37 L446.04,257.22" fill="none" stroke="#00e5ff" stroke-width="1.30" stroke-linejoin="round"/>
<path d="M446.04,257.22 L445.93,258.05 L445.81,258.84 L445.68,259.60 L445.54,260.34 L445.38,261.06 L445.22,261.76 L445.05,262.44 L444.87,263.11 L444.67,263.77 L444.46,264.40 L444.24,265.01 L444.00,265.61 L443.76,266.19 L443.52,266.77 L443.27,267.33 L443.02,267.89 L442.77,268.44 L442.52,268.98 L442.27,269.51 L442.01,270.02 L441.74,270.53 L441.47,271.04 L441.19,271.53 L440.91,272.02 L440.63,272.51 L440.34,272.99 L440.05,273.47 L439.75,273.93 L439.45,274.39 L439.13,274.84 L438.80,275.28 L438.44,275.70 L438.09,276.11" fill="none" stroke="#22ee00" stroke-width="1.30" stroke-linejoin="round"/>
<path d="M438.09,276.11 L437.73,276.51 L437.36,276.90 L436.98,277.28 L436.57,277.65 L436.13,278.01 L435.65,278.36 L435.11,278.69 L434.52,279.01 L433.87,279.33 L433.17,279.64 L432.45,279.93 L431.70,280.21 L430.94,280.47 L430.19,280.71 L429.44,280.92 L428.82,281.09 L428.36,281.20 L427.95,281.28 L427.51,281.35 L426.93,281.43 L426.11,281.52 L424.97,281.66 L423.40,281.86 L421.24,282.11 L418.52,282.41 L415.41,282.74 L412.10,283.10 L408.76,283.47 L405.58,283.87 L402.73,284.27 L400.40,284.67 L398.57,285.08 L397.06,285.51 L395.81,285.95 L394.75,286.41 L393.82,286.87 L392.97,287.33 L392.11,287.79 L391.20,288.23" fill="none" stroke="#88ff00" stroke-width="1.30" stroke-linejoin="round"/>
<path d="M391.20,288.23 L390.28,288.67 L389.42,289.10 L388.62,289.53 L387.86,289.96 L387.13,290.39 L386.42,290.82 L385.72,291.25 L385.00,291.69 L384.28,292.12 L383.58,292.54 L382.89,292.95 L382.22,293.37 L381.55,293.80 L380.90,294.25 L380.25,294.72 L379.60,295.22" fill="none" stroke="#ffff00" stroke-width="1.30" stroke-linejoin="round"/>
<path d="M379.60,295.22 L378.96,295.77 L378.34,296.38 L377.72,297.01 L377.11,297.66 L376.50,298.30 L375.90,298.92 L375.30,299.49 L374.70,300.01 L374.13,300.45 L373.59,300.83 L373.07,301.17" fill="none" stroke="#ff8800" stroke-width="1.30" stroke-linejoin="round"/>
<path d="M373.07,301.17 L372.55,301.48 L372.00,301.80 L371.41,302.12 L370.75,302.49 L370.00,302.91 L369.15,303.40 L368.22,303.96 L367.22,304.55 L366.17,305.15 L365.09,305.76 L364.01,306.33 L362.94,306.86 L361.90,307.32 L360.91,307.71 L359.96,308.04 L359.03,308.32 L358.09,308.58 L357.11,308.82 L356.07,309.07 L354.94,309.32 L353.70,309.61 L352.32,309.93 L350.82,310.28 L349.24,310.63 L347.59,310.99 L345.91,311.34 L344.23,311.67 L342.58,311.97 L341.00,312.23 L339.46,312.46 L337.93,312.68 L336.40,312.87 L334.89,313.04 L333.40,313.19 L331.91,313.30 L330.45,313.39 L329.00,313.43 L327.57,313.44 L326.16,313.41 L324.76,313.34 L323.38,313.25 L322.01,313.14 L320.66,313.00 L319.32,312.86 L318.00,312.71 L316.63,312.54 L315.20,312.32 L313.74,312.08 L312.31,311.83 L310.97,311.59 L309.77,311.37 L308.76,311.18 L308.00,311.04" fill="none" stroke="#ff0000" stroke-width="1.30" stroke-linejoin="round"/>
<path d="M446.80,235.67 L446.79,236.48 L446.77,237.56 L446.76,238.86 L446.74,240.29" fill="none" stroke="#1a60ff" stroke-width="1.30" stroke-linejoin="round"/>
<path d="M446.74,240.29 L446.71,241.79 L446.68,243.29 L446.64,244.72 L446.60,246.00 L446.55,247.18 L446.50,248.33 L446.44,249.46 L446.38,250.56 L446.31,251.64 L446.23,252.68 L446.14,253.69 L446.03,254.67 L445.92,255.60 L445.79,256.51 L445.65,257.37" fill="none" stroke="#00e5ff" stroke-width="1.30" stroke-linejoin="round"/>
<path d="M445.65,257.37 L445.50,258.21 L445.34,259.02 L445.17,259.81 L444.99,260.58 L444.80,261.33 L444.59,262.07 L444.37,262.78 L444.14,263.46 L443.89,264.13 L443.64,264.78 L443.38,265.42 L443.12,266.04 L442.87,266.67 L442.61,267.28 L442.35,267.88 L442.09,268.47 L441.83,269.04 L441.56,269.61 L441.29,270.17 L441.01,270.72 L440.73,271.27 L440.45,271.81 L440.17,272.35 L439.89,272.88 L439.61,273.41 L439.31,273.93 L439.00,274.43 L438.68,274.92 L438.33,275.40 L437.98,275.86" fill="none" stroke="#22ee00" stroke-width="1.30" stroke-linejoin="round"/>
<path d="M437.98,275.86 L437.63,276.32 L437.27,276.76 L436.89,277.19 L436.49,277.60 L436.05,278.00 L435.57,278.39 L435.03,278.77 L434.44,279.13 L433.78,279.49 L433.08,279.83 L432.35,280.16 L431.59,280.48 L430.83,280.77 L430.07,281.03 L429.33,281.27 L428.72,281.45 L428.27,281.58 L427.88,281.67 L427.45,281.75 L426.89,281.82 L426.09,281.92 L424.96,282.06 L423.40,282.27 L421.25,282.53 L418.53,282.82 L415.42,283.15 L412.10,283.51 L408.76,283.89 L405.58,284.28 L402.73,284.69 L400.40,285.10 L398.57,285.53 L397.06,285.98 L395.81,286.45 L394.75,286.94 L393.82,287.43 L392.97,287.92 L392.11,288.42 L391.20,288.90" fill="none" stroke="#88ff00" stroke-width="1.30" stroke-linejoin="round"/>
<path d="M391.20,288.90 L390.28,289.38 L389.42,289.86 L388.62,290.34 L387.86,290.83 L387.13,291.31 L386.42,291.80 L385.72,292.28 L385.00,292.77 L384.28,293.25 L383.58,293.71 L382.89,294.18 L382.22,294.65 L381.55,295.12 L380.90,295.62 L380.25,296.13 L379.60,296.67" fill="none" stroke="#ffff00" stroke-width="1.30" stroke-linejoin="round"/>
<path d="M379.60,296.67 L378.96,297.25 L378.34,297.88 L377.72,298.54 L377.11,299.21 L376.50,299.88 L375.90,300.51 L375.30,301.10 L374.70,301.63 L374.13,302.08 L373.59,302.46 L373.07,302.79" fill="none" stroke="#ff8800" stroke-width="1.30" stroke-linejoin="round"/>
<path d="M373.07,302.79 L372.55,303.09 L372.00,303.40 L371.41,303.72 L370.75,304.09 L370.00,304.53 L369.15,305.06 L368.22,305.65 L367.22,306.30 L366.17,306.96 L365.09,307.62 L364.01,308.26 L362.94,308.85 L361.90,309.37 L360.91,309.81 L359.96,310.19 L359.03,310.54 L358.09,310.85 L357.11,311.16 L356.07,311.46 L354.94,311.78 L353.70,312.13 L352.32,312.52 L350.82,312.94 L349.24,313.36 L347.59,313.80 L345.91,314.22 L344.23,314.62 L342.58,314.98 L341.00,315.30 L339.46,315.58 L337.93,315.85 L336.40,316.08 L334.89,316.30 L333.40,316.48 L331.91,316.62 L330.45,316.73 L329.00,316.80 L327.57,316.82 L326.16,316.79 L324.76,316.73 L323.38,316.63 L322.01,316.50 L320.66,316.36 L319.32,316.20 L318.00,316.03 L316.63,315.84 L315.20,315.59 L313.74,315.32 L312.31,315.04 L310.97,314.76 L309.77,314.50 L308.76,314.29 L308.00,314.13" fill="none" stroke="#ff0000" stroke-width="1.30" stroke-linejoin="round"/>
<path d="M446.80,230.58 L446.79,231.50 L446.77,232.74 L446.76,234.21 L446.74,235.84 L446.71,237.55 L446.68,239.26" fill="none" stroke="#1a60ff" stroke-width="1.30" stroke-linejoin="round"/>
<path d="M446.68,239.26 L446.64,240.88 L446.60,242.33 L446.55,243.67 L446.50,244.97 L446.44,246.25 L446.38,247.49 L446.31,248.70 L446.23,249.88 L446.13,251.01 L446.02,252.11 L445.90,253.16 L445.77,254.17 L445.62,255.14 L445.47,256.08 L445.30,256.98" fill="none" stroke="#00e5ff" stroke-width="1.30" stroke-linejoin="round"/>
<path d="M445.30,256.98 L445.12,257.86 L444.93,258.72 L444.73,259.56 L444.52,260.37 L444.28,261.16 L444.03,261.91 L443.78,262.65 L443.51,263.36 L443.24,264.07 L442.98,264.76 L442.71,265.44 L442.45,266.12 L442.19,266.78 L441.92,267.43 L441.65,268.06 L441.38,268.68 L441.11,269.30 L440.83,269.91 L440.56,270.51 L440.28,271.11 L440.01,271.71 L439.73,272.30 L439.46,272.89 L439.17,273.46 L438.88,274.02 L438.56,274.57 L438.22,275.10" fill="none" stroke="#22ee00" stroke-width="1.30" stroke-linejoin="round"/>
<path d="M438.22,275.10 L437.88,275.62 L437.53,276.12 L437.17,276.61 L436.80,277.09 L436.40,277.55 L435.97,278.00 L435.49,278.43 L434.96,278.84 L434.36,279.25 L433.70,279.64 L432.99,280.03 L432.25,280.40 L431.49,280.74 L430.72,281.06 L429.96,281.35 L429.22,281.61 L428.62,281.81 L428.18,281.96 L427.80,282.06 L427.39,282.14 L426.85,282.22 L426.07,282.33 L424.95,282.47 L423.40,282.68 L421.25,282.94 L418.53,283.24 L415.43,283.57 L412.11,283.92 L408.77,284.30 L405.58,284.69 L402.73,285.11 L400.40,285.53 L398.57,285.98 L397.06,286.45 L395.81,286.95 L394.75,287.46 L393.82,287.98 L392.97,288.51 L392.11,289.04 L391.20,289.57" fill="none" stroke="#88ff00" stroke-width="1.30" stroke-linejoin="round"/>
<path d="M391.20,289.57 L390.28,290.09 L389.42,290.62 L388.62,291.15 L387.86,291.69 L387.13,292.23 L386.42,292.77 L385.72,293.31 L385.00,293.84 L384.28,294.37 L383.58,294.89 L382.89,295.41 L382.22,295.92 L381.55,296.45 L380.90,296.98 L380.25,297.54 L379.60,298.11" fill="none" stroke="#ffff00" stroke-width="1.30" stroke-linejoin="round"/>
<path d="M379.60,298.11 L378.96,298.73 L378.34,299.39 L377.72,300.07 L377.11,300.77 L376.50,301.45 L375.90,302.11 L375.30,302.71 L374.70,303.26 L374.13,303.71 L373.59,304.08 L373.07,304.40" fill="none" stroke="#ff8800" stroke-width="1.30" stroke-linejoin="round"/>
<path d="M373.07,304.40 L372.55,304.70 L372.00,304.99 L371.41,305.32 L370.75,305.70 L370.00,306.16 L369.15,306.71 L368.22,307.35 L367.22,308.04 L366.17,308.76 L365.09,309.48 L364.01,310.18 L362.94,310.83 L361.90,311.41 L360.91,311.91 L359.96,312.35 L359.03,312.75 L358.09,313.13 L357.11,313.49 L356.07,313.86 L354.94,314.24 L353.70,314.66 L352.32,315.11 L350.82,315.60 L349.24,316.10 L347.59,316.60 L345.91,317.09 L344.23,317.56 L342.58,317.99 L341.00,318.37 L339.46,318.70 L337.93,319.01 L336.40,319.30 L334.89,319.55 L333.40,319.77 L331.91,319.95 L330.45,320.08 L329.00,320.17 L327.57,320.20 L326.16,320.18 L324.76,320.11 L323.38,320.01 L322.01,319.87 L320.66,319.71 L319.32,319.54 L318.00,319.36 L316.63,319.14 L315.20,318.87 L313.74,318.56 L312.31,318.24 L310.97,317.92 L309.77,317.64 L308.76,317.40 L308.00,317.22" fill="none" stroke="#ff0000" stroke-width="1.30" stroke-linejoin="round"/>
<path d="M446.80,225.49 L446.79,226.52 L446.77,227.91 L446.76,229.57 L446.74,231.40 L446.71,233.31 L446.68,235.22 L446.64,237.04 L446.60,238.67 L446.55,240.16" fill="none" stroke="#1a60ff" stroke-width="1.30" stroke-linejoin="round"/>
<path d="M446.55,240.16 L446.50,241.61 L446.44,243.03 L446.38,244.42 L446.30,245.77 L446.22,247.07 L446.12,248.34 L446.01,249.56 L445.88,250.72 L445.75,251.84 L445.60,252.91 L445.43,253.94 L445.26,254.94 L445.07,255.91 L444.88,256.85" fill="none" stroke="#00e5ff" stroke-width="1.30" stroke-linejoin="round"/>
<path d="M444.88,256.85 L444.67,257.78 L444.44,258.67 L444.19,259.54 L443.93,260.36 L443.66,261.17 L443.39,261.95 L443.11,262.72 L442.83,263.47 L442.56,264.22 L442.29,264.96 L442.02,265.68 L441.75,266.39 L441.48,267.08 L441.20,267.76 L440.93,268.43 L440.65,269.09 L440.38,269.76 L440.11,270.42 L439.84,271.07 L439.58,271.72 L439.31,272.37 L439.04,273.00 L438.75,273.62 L438.44,274.22 L438.11,274.80" fill="none" stroke="#22ee00" stroke-width="1.30" stroke-linejoin="round"/>
<path d="M438.11,274.80 L437.77,275.37 L437.43,275.92 L437.08,276.46 L436.71,276.99 L436.32,277.50 L435.89,277.99 L435.41,278.47 L434.88,278.92 L434.28,279.37 L433.61,279.80 L432.90,280.22 L432.15,280.63 L431.38,281.01 L430.61,281.36 L429.85,281.67 L429.11,281.96 L428.51,282.18 L428.08,282.33 L427.73,282.44 L427.33,282.53 L426.81,282.62 L426.04,282.73 L424.94,282.88 L423.40,283.09 L421.26,283.36 L418.54,283.65 L415.43,283.98 L412.12,284.33 L408.77,284.71 L405.58,285.11 L402.73,285.53 L400.40,285.97 L398.57,286.43 L397.06,286.93 L395.81,287.45 L394.75,287.99 L393.82,288.54 L392.97,289.10 L392.11,289.67 L391.20,290.23" fill="none" stroke="#88ff00" stroke-width="1.30" stroke-linejoin="round"/>
<path d="M391.20,290.23 L390.28,290.80 L389.42,291.38 L388.62,291.96 L387.86,292.55 L387.13,293.15 L386.42,293.74 L385.72,294.34 L385.00,294.92 L384.28,295.50 L383.58,296.07 L382.89,296.63 L382.22,297.20 L381.55,297.77 L380.90,298.35 L380.25,298.94 L379.60,299.56" fill="none" stroke="#ffff00" stroke-width="1.30" stroke-linejoin="round"/>
<path d="M379.60,299.56 L378.96,300.20 L378.34,300.89 L377.72,301.61 L377.11,302.32 L376.50,303.03 L375.90,303.70 L375.30,304.32 L374.70,304.88 L374.13,305.34 L373.59,305.71 L373.07,306.02" fill="none" stroke="#ff8800" stroke-width="1.30" stroke-linejoin="round"/>
<path d="M373.07,306.02 L372.55,306.31 L372.00,306.59 L371.41,306.91 L370.75,307.30 L370.00,307.78 L369.15,308.37 L368.22,309.05 L367.22,309.79 L366.17,310.57 L365.09,311.35 L364.01,312.11 L362.94,312.82 L361.90,313.46 L360.91,314.01 L359.96,314.51 L359.03,314.97 L358.09,315.41 L357.11,315.83 L356.07,316.26 L354.94,316.70 L353.70,317.18 L352.32,317.70 L350.82,318.25 L349.24,318.83 L347.59,319.41 L345.91,319.97 L344.23,320.51 L342.58,321.00 L341.00,321.43 L339.46,321.82 L337.93,322.18 L336.40,322.51 L334.89,322.80 L333.40,323.06 L331.91,323.27 L330.45,323.43 L329.00,323.53 L327.57,323.58 L326.16,323.56 L324.76,323.50 L323.38,323.38 L322.01,323.24 L320.66,323.07 L319.32,322.88 L318.00,322.68 L316.63,322.44 L315.20,322.14 L313.74,321.80 L312.31,321.44 L310.97,321.09 L309.77,320.77 L308.76,320.50 L308.00,320.31" fill="none" stroke="#ff0000" stroke-width="1.30" stroke-linejoin="round"/>
<path d="M446.80,220.40 L446.79,221.54 L446.77,223.08 L446.76,224.92 L446.74,226.95 L446.71,229.07 L446.68,231.19 L446.65,233.20 L446.60,235.00 L446.55,236.64 L446.50,238.25 L446.44,239.82" fill="none" stroke="#1a60ff" stroke-width="1.30" stroke-linejoin="round"/>
<path d="M446.44,239.82 L446.38,241.35 L446.30,242.83 L446.22,244.27 L446.12,245.66 L446.00,247.00 L445.87,248.28 L445.72,249.51 L445.57,250.68 L445.40,251.81 L445.22,252.90 L445.03,253.96 L444.82,254.99 L444.60,256.00 L444.36,256.98" fill="none" stroke="#00e5ff" stroke-width="1.30" stroke-linejoin="round"/>
<path d="M444.36,256.98 L444.11,257.91 L443.83,258.82 L443.55,259.69 L443.26,260.54 L442.97,261.37 L442.68,262.19 L442.40,263.00 L442.12,263.80 L441.85,264.58 L441.57,265.35 L441.30,266.09 L441.02,266.83 L440.75,267.56 L440.48,268.28 L440.20,269.00 L439.93,269.72 L439.67,270.43 L439.42,271.14 L439.16,271.84 L438.90,272.53 L438.62,273.21 L438.32,273.86 L438.00,274.50" fill="none" stroke="#22ee00" stroke-width="1.30" stroke-linejoin="round"/>
<path d="M438.00,274.50 L437.67,275.12 L437.33,275.72 L436.99,276.31 L436.63,276.89 L436.23,277.44 L435.81,277.98 L435.33,278.50 L434.80,279.00 L434.20,279.48 L433.53,279.96 L432.81,280.42 L432.05,280.86 L431.27,281.27 L430.50,281.65 L429.73,282.00 L429.00,282.30 L428.41,282.54 L427.99,282.71 L427.65,282.83 L427.28,282.93 L426.77,283.02 L426.02,283.13 L424.93,283.28 L423.40,283.50 L421.26,283.77 L418.55,284.07 L415.44,284.39 L412.13,284.74 L408.78,285.12 L405.59,285.52 L402.73,285.95 L400.40,286.40 L398.57,286.88 L397.06,287.40 L395.81,287.94 L394.75,288.51 L393.82,289.10 L392.97,289.70 L392.11,290.30 L391.20,290.90" fill="none" stroke="#88ff00" stroke-width="1.30" stroke-linejoin="round"/>
<path d="M391.20,290.90 L390.28,291.51 L389.42,292.14 L388.62,292.77 L387.86,293.42 L387.13,294.07 L386.42,294.72 L385.72,295.36 L385.00,296.00 L384.28,296.63 L383.58,297.25 L382.89,297.86 L382.22,298.48 L381.55,299.09 L380.90,299.72 L380.25,300.35 L379.60,301.00" fill="none" stroke="#ffff00" stroke-width="1.30" stroke-linejoin="round"/>
<path d="M379.60,301.00 L378.96,301.68 L378.34,302.40 L377.72,303.14 L377.11,303.88 L376.50,304.61 L375.90,305.30 L375.30,305.93 L374.70,306.50 L374.13,306.97 L373.59,307.33 L373.07,307.64" fill="none" stroke="#ff8800" stroke-width="1.30" stroke-linejoin="round"/>
<path d="M373.07,307.64 L372.55,307.91 L372.00,308.19 L371.41,308.51 L370.75,308.90 L370.00,309.40 L369.15,310.02 L368.22,310.74 L367.22,311.54 L366.17,312.37 L365.09,313.21 L364.01,314.03 L362.94,314.81 L361.90,315.50 L360.91,316.11 L359.96,316.67 L359.03,317.19 L358.09,317.68 L357.11,318.16 L356.07,318.65 L354.94,319.16 L353.70,319.70 L352.32,320.29 L350.82,320.91 L349.24,321.56 L347.59,322.21 L345.91,322.85 L344.23,323.45 L342.58,324.01 L341.00,324.50 L339.46,324.94 L337.93,325.35 L336.40,325.72 L334.89,326.06 L333.40,326.35 L331.91,326.59 L330.45,326.77 L329.00,326.90 L327.57,326.96 L326.16,326.95 L324.76,326.88 L323.38,326.76 L322.01,326.61 L320.66,326.42 L319.32,326.22 L318.00,326.00 L316.63,325.74 L315.20,325.41 L313.74,325.04 L312.31,324.64 L310.97,324.26 L309.77,323.91 L308.76,323.61 L308.00,323.40" fill="none" stroke="#ff0000" stroke-width="1.30" stroke-linejoin="round"/>
<path d="M308.00,291.30 L308.03,291.20 L308.05,291.06 L308.07,290.90 L308.11,290.72 L308.17,290.53 L308.26,290.34 L308.40,290.16 L308.60,290.00 L308.85,289.85" fill="none" stroke="#ff8c00" stroke-width="1.50" stroke-linejoin="round"/>
<path d="M308.85,289.85 L309.14,289.71 L309.46,289.57 L309.82,289.44 L310.23,289.30 L310.68,289.17 L311.17,289.04 L311.70,288.90 L312.30,288.76 L312.96,288.61 L313.67,288.47 L314.43,288.32 L315.20,288.18 L315.98,288.04 L316.75,287.91 L317.50,287.80 L318.19,287.70 L318.83,287.61 L319.45,287.54 L320.09,287.47 L320.77,287.40 L321.52,287.34 L322.39,287.27 L323.40,287.20 L324.58,287.12 L325.90,287.04 L327.33,286.96 L328.84,286.88 L330.39,286.80 L331.96,286.72 L333.51,286.66 L335.00,286.60 L336.43,286.56 L337.84,286.53 L339.23,286.50 L340.62,286.49 L342.05,286.47 L343.53,286.45 L345.07,286.43 L346.70,286.40 L348.50,286.36 L350.47,286.33 L352.56,286.30 L354.67,286.26 L356.73,286.21 L358.68,286.15 L360.43,286.08 L361.90,286.00 L363.07,285.92" fill="none" stroke="#ffff00" stroke-width="1.50" stroke-linejoin="round"/>
<path d="M363.07,285.92 L364.01,285.85 L364.76,285.78 L365.38,285.70 L365.93,285.58 L366.46,285.42 L367.03,285.20 L367.70,284.90 L368.45,284.49 L369.24,283.98 L370.04,283.39 L370.84,282.76 L371.61,282.13 L372.34,281.52 L373.01,280.96 L373.60,280.50 L374.10,280.13 L374.51,279.81 L374.86,279.53 L375.17,279.29 L375.46,279.06 L375.74,278.85 L376.05,278.63" fill="none" stroke="#77ff00" stroke-width="1.50" stroke-linejoin="round"/>
<path d="M376.05,278.63 L376.40,278.40 L376.79,278.16 L377.20,277.93 L377.61,277.71 L378.04,277.49 L378.46,277.28 L378.86,277.06 L379.25,276.83 L379.60,276.60 L379.93,276.37 L380.23,276.15 L380.52,275.93 L380.79,275.70 L381.06,275.46" fill="none" stroke="#00e8ff" stroke-width="1.50" stroke-linejoin="round"/>
<path d="M381.06,275.46 L381.31,275.20 L381.56,274.92 L381.80,274.60 L382.04,274.24 L382.26,273.85 L382.48,273.44 L382.69,273.00 L382.90,272.55 L383.10,272.10 L383.30,271.64 L383.50,271.20 L383.70,270.75 L383.90,270.28 L384.10,269.81 L384.29,269.33 L384.48,268.86 L384.66,268.41 L384.84,267.99 L385.00,267.60 L385.15,267.24 L385.29,266.90 L385.41,266.58 L385.53,266.28 L385.65,266.00 L385.76,265.75 L385.88,265.51 L386.00,265.30 L386.12,265.11 L386.24,264.94 L386.36,264.79 L386.48,264.67 L386.60,264.57 L386.73,264.49 L386.86,264.43 L387.00,264.40 L387.14,264.39 L387.28,264.41 L387.43,264.45 L387.58,264.52 L387.73,264.61 L387.90,264.72 L388.09,264.85 L388.30,265.00 L388.52,265.18 L388.76,265.39 L389.01,265.63 L389.27,265.89 L389.55,266.16 L389.84,266.44 L390.16,266.72 L390.50,267.00 L390.85,267.28 L391.21,267.58 L391.59,267.88 L391.99,268.19 L392.41,268.50 L392.87,268.80 L393.36,269.11 L393.90,269.40 L394.48,269.69 L395.11,269.99 L395.76,270.28" fill="none" stroke="#0008f5" stroke-width="1.50" stroke-linejoin="round"/>
<path d="M395.76,270.28 L396.46,270.57 L397.18,270.85 L397.93,271.12 L398.70,271.37 L399.50,271.60 L400.31,271.81 L401.13,272.01 L401.96,272.19 L402.83,272.36 L403.74,272.51 L404.70,272.65 L405.71,272.78 L406.80,272.90" fill="none" stroke="#2a6cff" stroke-width="1.50" stroke-linejoin="round"/>
<path d="M406.80,272.90 L407.97,273.01 L409.21,273.11 L410.52,273.20 L411.88,273.28 L413.26,273.34 L414.67,273.39 L416.09,273.41 L417.50,273.40 L418.92,273.37 L420.38,273.33 L421.85,273.27 L423.34,273.18 L424.83,273.07 L426.31,272.94 L427.77,272.79 L429.20,272.60" fill="none" stroke="#00e5ff" stroke-width="1.50" stroke-linejoin="round"/>
<path d="M429.20,272.60 L430.62,272.39 L432.06,272.15 L433.49,271.89 L434.91,271.60 L436.28,271.29 L437.60,270.95 L438.85,270.59 L440.00,270.20 L441.09,269.75 L442.14,269.22 L443.14,268.64 L444.08,268.05 L444.92,267.48 L445.67,266.96 L446.30,266.52 L446.80,266.20" fill="none" stroke="#1a60ff" stroke-width="1.50" stroke-linejoin="round"/>
<path d="M308.00,290.71 L308.03,290.59 L308.05,290.44 L308.07,290.25 L308.11,290.04 L308.17,289.83 L308.26,289.61 L308.40,289.41 L308.60,289.22 L308.85,289.06" fill="none" stroke="#ff8c00" stroke-width="1.50" stroke-linejoin="round"/>
<path d="M308.85,289.06 L309.14,288.90 L309.46,288.75 L309.82,288.60 L310.23,288.45 L310.68,288.30 L311.17,288.15 L311.70,288.00 L312.30,287.84 L312.96,287.68 L313.67,287.51 L314.43,287.35 L315.20,287.18 L315.98,287.03 L316.75,286.89 L317.50,286.76 L318.19,286.64 L318.83,286.54 L319.45,286.44 L320.09,286.36 L320.77,286.28 L321.52,286.20 L322.39,286.12 L323.40,286.03 L324.58,285.94 L325.90,285.85 L327.33,285.76 L328.84,285.67 L330.39,285.58 L331.96,285.50 L333.51,285.43 L335.00,285.37 L336.43,285.32 L337.84,285.28 L339.23,285.25 L340.62,285.23 L342.05,285.21 L343.53,285.19 L345.07,285.16 L346.70,285.12 L348.50,285.08 L350.47,285.05 L352.56,285.01 L354.67,284.96 L356.73,284.92 L358.68,284.86 L360.43,284.79 L361.90,284.70 L363.07,284.62" fill="none" stroke="#ffff00" stroke-width="1.50" stroke-linejoin="round"/>
<path d="M363.07,284.62 L364.01,284.56 L364.76,284.50 L365.38,284.42 L365.93,284.31 L366.46,284.14 L367.03,283.91 L367.70,283.60 L368.45,283.17 L369.24,282.63 L370.04,282.01 L370.84,281.34 L371.61,280.67 L372.34,280.01 L373.01,279.41 L373.60,278.89 L374.10,278.45 L374.51,278.07 L374.86,277.72 L375.17,277.40 L375.46,277.10 L375.74,276.80 L376.05,276.51" fill="none" stroke="#77ff00" stroke-width="1.50" stroke-linejoin="round"/>
<path d="M376.05,276.51 L376.40,276.20 L376.79,275.89 L377.20,275.58 L377.61,275.28 L378.04,274.98 L378.46,274.69 L378.86,274.40 L379.25,274.11 L379.60,273.81 L379.93,273.53 L380.23,273.26 L380.52,273.00 L380.79,272.74 L381.05,272.47" fill="none" stroke="#00e8ff" stroke-width="1.50" stroke-linejoin="round"/>
<path d="M381.05,272.47 L381.30,272.17 L381.55,271.84 L381.80,271.48 L382.04,271.07 L382.27,270.62 L382.50,270.15 L382.71,269.65 L382.93,269.14 L383.14,268.62 L383.35,268.09 L383.56,267.57 L383.77,267.03 L383.98,266.46 L384.20,265.88 L384.41,265.29 L384.61,264.71 L384.81,264.15 L385.00,263.63 L385.18,263.14 L385.34,262.70 L385.49,262.28 L385.63,261.88 L385.77,261.50 L385.90,261.15 L386.03,260.83 L386.16,260.53 L386.30,260.27 L386.44,260.03 L386.58,259.81 L386.72,259.63 L386.86,259.47 L387.00,259.34 L387.14,259.23 L387.29,259.16 L387.44,259.11 L387.60,259.10 L387.75,259.11 L387.91,259.16 L388.07,259.23 L388.23,259.33 L388.41,259.45 L388.61,259.59 L388.82,259.76 L389.05,259.95 L389.29,260.17 L389.54,260.42 L389.80,260.70 L390.08,260.99 L390.38,261.29 L390.70,261.59 L391.03,261.89 L391.39,262.20 L391.75,262.52 L392.12,262.85 L392.52,263.19 L392.94,263.53 L393.40,263.86 L393.88,264.20 L394.41,264.52 L394.98,264.84 L395.58,265.17" fill="none" stroke="#0008f5" stroke-width="1.50" stroke-linejoin="round"/>
<path d="M395.58,265.17 L396.22,265.49 L396.89,265.81 L397.59,266.13 L398.32,266.43 L399.06,266.71 L399.83,266.98 L400.61,267.23 L401.41,267.46 L402.22,267.68 L403.05,267.89 L403.93,268.09 L404.85,268.27 L405.83,268.44 L406.88,268.60" fill="none" stroke="#2a6cff" stroke-width="1.50" stroke-linejoin="round"/>
<path d="M406.88,268.60 L408.00,268.75 L409.18,268.89 L410.43,269.03 L411.72,269.14 L413.04,269.25 L414.39,269.32 L415.75,269.38 L417.11,269.40 L418.49,269.40 L419.91,269.39 L421.36,269.35 L422.82,269.29 L424.29,269.20 L425.76,269.08 L427.20,268.92 L428.62,268.71" fill="none" stroke="#00e5ff" stroke-width="1.50" stroke-linejoin="round"/>
<path d="M428.62,268.71 L430.04,268.46 L431.48,268.17 L432.93,267.83 L434.36,267.47 L435.75,267.07 L437.10,266.65 L438.37,266.20 L439.56,265.73 L440.69,265.20 L441.80,264.59 L442.86,263.92 L443.86,263.24 L444.78,262.58 L445.58,261.98 L446.27,261.48 L446.80,261.11" fill="none" stroke="#1a60ff" stroke-width="1.50" stroke-linejoin="round"/>
<path d="M308.00,290.12 L308.03,289.99 L308.05,289.81 L308.07,289.60 L308.11,289.37 L308.17,289.12 L308.26,288.88 L308.40,288.65 L308.60,288.44 L308.85,288.26" fill="none" stroke="#ff8c00" stroke-width="1.50" stroke-linejoin="round"/>
<path d="M308.85,288.26 L309.14,288.09 L309.46,287.92 L309.82,287.75 L310.23,287.59 L310.68,287.43 L311.17,287.27 L311.70,287.10 L312.30,286.92 L312.96,286.74 L313.67,286.56 L314.43,286.37 L315.20,286.19 L315.98,286.02 L316.75,285.86 L317.50,285.71 L318.19,285.58 L318.83,285.46 L319.45,285.35 L320.09,285.25 L320.77,285.15 L321.52,285.06 L322.39,284.96 L323.40,284.87 L324.58,284.77 L325.90,284.67 L327.33,284.56 L328.84,284.47 L330.39,284.37 L331.96,284.28 L333.51,284.20 L335.00,284.13 L336.43,284.08 L337.84,284.03 L339.23,284.00 L340.62,283.97 L342.05,283.94 L343.53,283.92 L345.07,283.88 L346.70,283.84 L348.50,283.80 L350.47,283.76 L352.56,283.72 L354.67,283.67 L356.73,283.62 L358.68,283.56 L360.43,283.49 L361.90,283.40 L363.07,283.32" fill="none" stroke="#ffff00" stroke-width="1.50" stroke-linejoin="round"/>
<path d="M363.07,283.32 L364.01,283.26 L364.76,283.21 L365.38,283.14 L365.93,283.03 L366.46,282.87 L367.03,282.63 L367.70,282.30 L368.45,281.85 L369.24,281.28 L370.04,280.63 L370.84,279.92 L371.61,279.21 L372.34,278.50 L373.01,277.85 L373.60,277.28 L374.10,276.78 L374.51,276.33 L374.86,275.91 L375.17,275.51 L375.46,275.13 L375.74,274.76 L376.05,274.38" fill="none" stroke="#77ff00" stroke-width="1.50" stroke-linejoin="round"/>
<path d="M376.05,274.38 L376.40,274.00 L376.79,273.61 L377.20,273.23 L377.61,272.85 L378.04,272.47 L378.46,272.10 L378.86,271.74 L379.25,271.38 L379.60,271.02 L379.93,270.69 L380.23,270.37 L380.52,270.08 L380.79,269.78 L381.05,269.47" fill="none" stroke="#00e8ff" stroke-width="1.50" stroke-linejoin="round"/>
<path d="M381.05,269.47 L381.30,269.14 L381.55,268.77 L381.80,268.36 L382.05,267.89 L382.28,267.39 L382.51,266.86 L382.73,266.31 L382.95,265.73 L383.17,265.14 L383.39,264.54 L383.61,263.93 L383.84,263.30 L384.06,262.64 L384.29,261.95 L384.52,261.25 L384.74,260.56 L384.96,259.89 L385.16,259.26 L385.36,258.69 L385.53,258.16 L385.70,257.65 L385.86,257.17 L386.01,256.72 L386.15,256.30 L386.30,255.91 L386.45,255.56 L386.60,255.23 L386.76,254.94 L386.92,254.69 L387.07,254.46 L387.23,254.27 L387.39,254.11 L387.55,253.98 L387.72,253.88 L387.89,253.82 L388.06,253.80 L388.22,253.81 L388.39,253.86 L388.56,253.94 L388.74,254.04 L388.92,254.18 L389.12,254.34 L389.34,254.51 L389.58,254.71 L389.82,254.95 L390.07,255.22 L390.34,255.51 L390.62,255.81 L390.91,256.13 L391.23,256.45 L391.57,256.78 L391.92,257.11 L392.28,257.46 L392.66,257.82 L393.06,258.18 L393.48,258.55 L393.92,258.92 L394.40,259.29 L394.92,259.64 L395.48,260.00 L396.06,260.35" fill="none" stroke="#0008f5" stroke-width="1.50" stroke-linejoin="round"/>
<path d="M396.06,260.35 L396.68,260.71 L397.33,261.06 L398.00,261.40 L398.70,261.74 L399.42,262.05 L400.17,262.36 L400.92,262.64 L401.69,262.92 L402.47,263.18 L403.28,263.43 L404.12,263.67 L405.01,263.89 L405.95,264.10 L406.96,264.30" fill="none" stroke="#2a6cff" stroke-width="1.50" stroke-linejoin="round"/>
<path d="M406.96,264.30 L408.02,264.49 L409.15,264.67 L410.33,264.85 L411.56,265.01 L412.81,265.15 L414.10,265.26 L415.41,265.35 L416.72,265.40 L418.06,265.43 L419.45,265.44 L420.87,265.44 L422.30,265.40 L423.75,265.33 L425.20,265.22 L426.63,265.05 L428.04,264.82 L429.46,264.53" fill="none" stroke="#00e5ff" stroke-width="1.50" stroke-linejoin="round"/>
<path d="M429.46,264.53 L430.91,264.18 L432.36,263.78 L433.80,263.34 L435.22,262.85 L436.59,262.34 L437.89,261.81 L439.11,261.27 L440.29,260.66 L441.45,259.95 L442.58,259.19 L443.65,258.42 L444.63,257.68 L445.50,257.00 L446.23,256.44 L446.80,256.02" fill="none" stroke="#1a60ff" stroke-width="1.50" stroke-linejoin="round"/>
<path d="M308.00,289.53 L308.03,289.39 L308.05,289.19 L308.07,288.95 L308.11,288.69 L308.17,288.42 L308.26,288.15 L308.40,287.89 L308.60,287.67 L308.85,287.46" fill="none" stroke="#ff8c00" stroke-width="1.50" stroke-linejoin="round"/>
<path d="M308.85,287.46 L309.14,287.27 L309.46,287.09 L309.82,286.91 L310.23,286.74 L310.68,286.56 L311.17,286.38 L311.70,286.20 L312.30,286.01 L312.96,285.81 L313.67,285.60 L314.43,285.40 L315.20,285.20 L315.98,285.01 L316.75,284.83 L317.50,284.67 L318.19,284.52 L318.83,284.38 L319.45,284.26 L320.09,284.14 L320.77,284.03 L321.52,283.92 L322.39,283.81 L323.40,283.70 L324.58,283.59 L325.90,283.48 L327.33,283.37 L328.84,283.26 L330.39,283.16 L331.96,283.06 L333.51,282.98 L335.00,282.90 L336.43,282.84 L337.84,282.79 L339.23,282.75 L340.62,282.71 L342.05,282.68 L343.53,282.65 L345.07,282.61 L346.70,282.57 L348.50,282.52 L350.47,282.47 L352.56,282.43 L354.67,282.38 L356.73,282.33 L358.68,282.26 L360.43,282.19 L361.90,282.10 L363.07,282.02" fill="none" stroke="#ffff00" stroke-width="1.50" stroke-linejoin="round"/>
<path d="M363.07,282.02 L364.01,281.97 L364.76,281.92 L365.38,281.85 L365.93,281.75 L366.46,281.59 L367.03,281.34 L367.70,281.00 L368.45,280.53 L369.24,279.93 L370.04,279.25 L370.84,278.51 L371.61,277.75 L372.34,277.00 L373.01,276.29 L373.60,275.67 L374.10,275.11 L374.51,274.59 L374.86,274.10 L375.17,273.62 L375.46,273.16 L375.74,272.71 L376.05,272.26" fill="none" stroke="#77ff00" stroke-width="1.50" stroke-linejoin="round"/>
<path d="M376.05,272.26 L376.40,271.80 L376.79,271.34 L377.20,270.87 L377.61,270.42 L378.04,269.96 L378.46,269.52 L378.86,269.08 L379.25,268.65 L379.60,268.23 L379.93,267.84 L380.23,267.49 L380.51,267.15 L380.78,266.82 L381.04,266.48" fill="none" stroke="#00e8ff" stroke-width="1.50" stroke-linejoin="round"/>
<path d="M381.04,266.48 L381.30,266.11 L381.55,265.70 L381.80,265.23 L382.05,264.72 L382.29,264.16 L382.52,263.57 L382.75,262.96 L382.98,262.32 L383.21,261.66 L383.44,260.98 L383.67,260.30 L383.90,259.58 L384.15,258.82 L384.39,258.02 L384.63,257.21 L384.87,256.41 L385.10,255.63 L385.32,254.90 L385.53,254.23 L385.73,253.62 L385.91,253.03 L386.08,252.47 L386.24,251.94 L386.40,251.45 L386.57,250.99 L386.73,250.58 L386.90,250.20 L387.08,249.86 L387.25,249.56 L387.43,249.30 L387.61,249.07 L387.79,248.88 L387.97,248.73 L388.15,248.61 L388.33,248.53 L388.52,248.50 L388.69,248.51 L388.87,248.56 L389.05,248.65 L389.24,248.76 L389.43,248.91 L389.64,249.08 L389.87,249.27 L390.10,249.48 L390.35,249.73 L390.60,250.01 L390.87,250.32 L391.15,250.64 L391.45,250.98 L391.76,251.32 L392.10,251.67 L392.45,252.02 L392.82,252.40 L393.19,252.78 L393.59,253.18 L394.01,253.58 L394.45,253.98 L394.93,254.38 L395.43,254.77 L395.97,255.15" fill="none" stroke="#0008f5" stroke-width="1.50" stroke-linejoin="round"/>
<path d="M395.97,255.15 L396.54,255.53 L397.14,255.92 L397.77,256.30 L398.42,256.68 L399.09,257.04 L399.78,257.40 L400.50,257.73 L401.23,258.06 L401.97,258.37 L402.72,258.67 L403.50,258.96 L404.32,259.24 L405.17,259.51 L406.07,259.76 L407.03,260.00" fill="none" stroke="#2a6cff" stroke-width="1.50" stroke-linejoin="round"/>
<path d="M407.03,260.00 L408.05,260.23 L409.12,260.45 L410.24,260.67 L411.40,260.87 L412.59,261.05 L413.81,261.20 L415.06,261.32 L416.33,261.40 L417.64,261.46 L418.99,261.50 L420.37,261.52 L421.78,261.51 L423.21,261.46 L424.64,261.35 L426.06,261.18 L427.47,260.93 L428.88,260.60" fill="none" stroke="#00e5ff" stroke-width="1.50" stroke-linejoin="round"/>
<path d="M428.88,260.60 L430.33,260.20 L431.80,259.73 L433.25,259.20 L434.69,258.64 L436.08,258.04 L437.41,257.42 L438.67,256.80 L439.89,256.11 L441.11,255.32 L442.30,254.47 L443.43,253.61 L444.48,252.78 L445.41,252.03 L446.19,251.40 L446.80,250.93" fill="none" stroke="#1a60ff" stroke-width="1.50" stroke-linejoin="round"/>
<path d="M308.00,288.94 L308.03,288.78 L308.05,288.56 L308.07,288.30 L308.11,288.02 L308.17,287.72 L308.26,287.42 L308.40,287.14 L308.60,286.89 L308.85,286.67" fill="none" stroke="#ff8c00" stroke-width="1.50" stroke-linejoin="round"/>
<path d="M308.85,286.67 L309.14,286.46 L309.46,286.26 L309.82,286.07 L310.23,285.88 L310.68,285.69 L311.17,285.50 L311.70,285.30 L312.30,285.09 L312.96,284.87 L313.67,284.65 L314.43,284.43 L315.20,284.21 L315.98,284.00 L316.75,283.80 L317.50,283.62 L318.19,283.46 L318.83,283.30 L319.45,283.16 L320.09,283.03 L320.77,282.90 L321.52,282.78 L322.39,282.65 L323.40,282.53 L324.58,282.41 L325.90,282.29 L327.33,282.17 L328.84,282.06 L330.39,281.95 L331.96,281.84 L333.51,281.75 L335.00,281.67 L336.43,281.60 L337.84,281.54 L339.23,281.49 L340.62,281.45 L342.05,281.42 L343.53,281.38 L345.07,281.34 L346.70,281.29 L348.50,281.24 L350.47,281.19 L352.56,281.14 L354.67,281.09 L356.73,281.03 L358.68,280.97 L360.43,280.89 L361.90,280.80 L363.07,280.72" fill="none" stroke="#ffff00" stroke-width="1.50" stroke-linejoin="round"/>
<path d="M363.07,280.72 L364.01,280.67 L364.76,280.63 L365.38,280.57 L365.93,280.47 L366.46,280.31 L367.03,280.06 L367.70,279.70 L368.45,279.20 L369.24,278.58 L370.04,277.86 L370.84,277.09 L371.61,276.28 L372.34,275.49 L373.01,274.74 L373.60,274.06 L374.10,273.44 L374.51,272.85 L374.86,272.28 L375.17,271.73 L375.46,271.20 L375.74,270.66 L376.05,270.13" fill="none" stroke="#77ff00" stroke-width="1.50" stroke-linejoin="round"/>
<path d="M376.05,270.13 L376.40,269.60 L376.79,269.06 L377.20,268.52 L377.61,267.98 L378.04,267.45 L378.46,266.93 L378.86,266.42 L379.25,265.92 L379.60,265.44 L379.92,265.00 L380.23,264.60 L380.51,264.23 L380.78,263.86 L381.04,263.48" fill="none" stroke="#00e8ff" stroke-width="1.50" stroke-linejoin="round"/>
<path d="M381.04,263.48 L381.29,263.07 L381.55,262.62 L381.80,262.11 L382.05,261.54 L382.30,260.93 L382.54,260.29 L382.77,259.61 L383.01,258.91 L383.24,258.18 L383.48,257.43 L383.72,256.67 L383.97,255.86 L384.23,254.99 L384.49,254.09 L384.74,253.17 L385.00,252.26 L385.25,251.37 L385.49,250.54 L385.71,249.78 L385.92,249.07 L386.12,248.40 L386.30,247.76 L386.48,247.16 L386.66,246.60 L386.83,246.08 L387.01,245.60 L387.20,245.17 L387.39,244.78 L387.59,244.43 L387.78,244.13 L387.98,243.87 L388.18,243.65 L388.38,243.47 L388.58,243.34 L388.78,243.24 L388.97,243.20 L389.16,243.21 L389.35,243.26 L389.54,243.35 L389.74,243.48 L389.94,243.64 L390.16,243.82 L390.39,244.02 L390.63,244.25 L390.88,244.51 L391.14,244.81 L391.40,245.13 L391.69,245.47 L391.98,245.82 L392.30,246.19 L392.63,246.56 L392.99,246.93 L393.35,247.34 L393.73,247.75 L394.12,248.18 L394.54,248.61 L394.98,249.04 L395.45,249.47 L395.94,249.89" fill="none" stroke="#0008f5" stroke-width="1.50" stroke-linejoin="round"/>
<path d="M395.94,249.89 L396.47,250.30 L397.02,250.72 L397.60,251.13 L398.20,251.55 L398.83,251.95 L399.48,252.35 L400.14,252.74 L400.83,253.11 L401.53,253.47 L402.25,253.82 L402.97,254.17 L403.73,254.50 L404.51,254.82 L405.33,255.13 L406.19,255.42" fill="none" stroke="#2a6cff" stroke-width="1.50" stroke-linejoin="round"/>
<path d="M406.19,255.42 L407.11,255.70 L408.08,255.97 L409.09,256.24 L410.14,256.49 L411.24,256.73 L412.37,256.95 L413.53,257.14 L414.72,257.29 L415.94,257.40 L417.21,257.48 L418.52,257.56 L419.88,257.61 L421.26,257.62 L422.66,257.59 L424.08,257.49 L425.49,257.31 L426.89,257.04 L428.31,256.68 L429.76,256.21" fill="none" stroke="#00e5ff" stroke-width="1.50" stroke-linejoin="round"/>
<path d="M429.76,256.21 L431.23,255.67 L432.70,255.07 L434.16,254.42 L435.57,253.74 L436.93,253.04 L438.22,252.33 L439.48,251.56 L440.76,250.68 L442.02,249.75 L443.22,248.79 L444.33,247.88 L445.32,247.05 L446.16,246.36 L446.80,245.84" fill="none" stroke="#1a60ff" stroke-width="1.50" stroke-linejoin="round"/>
<path d="M308.00,288.36 L308.03,288.18 L308.05,287.94 L308.07,287.65 L308.11,287.34 L308.17,287.01 L308.26,286.69 L308.40,286.38 L308.60,286.11 L308.85,285.87" fill="none" stroke="#ff8c00" stroke-width="1.50" stroke-linejoin="round"/>
<path d="M308.85,285.87 L309.14,285.65 L309.46,285.44 L309.82,285.23 L310.23,285.03 L310.68,284.82 L311.17,284.62 L311.70,284.40 L312.30,284.17 L312.96,283.94 L313.67,283.70 L314.43,283.46 L315.20,283.22 L315.98,282.99 L316.75,282.78 L317.50,282.58 L318.19,282.40 L318.83,282.23 L319.45,282.07 L320.09,281.92 L320.77,281.77 L321.52,281.64 L322.39,281.50 L323.40,281.37 L324.58,281.23 L325.90,281.10 L327.33,280.97 L328.84,280.85 L330.39,280.73 L331.96,280.62 L333.51,280.52 L335.00,280.43 L336.43,280.36 L337.84,280.29 L339.23,280.24 L340.62,280.20 L342.05,280.15 L343.53,280.11 L345.07,280.06 L346.70,280.01 L348.50,279.96 L350.47,279.90 L352.56,279.85 L354.67,279.80 L356.73,279.74 L358.68,279.67 L360.43,279.59 L361.90,279.50 L363.07,279.42" fill="none" stroke="#ffff00" stroke-width="1.50" stroke-linejoin="round"/>
<path d="M363.07,279.42 L364.01,279.38 L364.76,279.34 L365.38,279.29 L365.93,279.19 L366.46,279.03 L367.03,278.77 L367.70,278.40 L368.45,277.88 L369.24,277.23 L370.04,276.48 L370.84,275.67 L371.61,274.82 L372.34,273.98 L373.01,273.18 L373.60,272.44 L374.10,271.77 L374.51,271.11 L374.86,270.47 L375.17,269.85 L375.46,269.23 L375.74,268.62 L376.05,268.01" fill="none" stroke="#77ff00" stroke-width="1.50" stroke-linejoin="round"/>
<path d="M376.05,268.01 L376.40,267.40 L376.79,266.79 L377.20,266.17 L377.61,265.55 L378.04,264.94 L378.46,264.34 L378.86,263.76 L379.25,263.19 L379.60,262.66 L379.92,262.16 L380.23,261.72 L380.51,261.30 L380.78,260.90 L381.04,260.48" fill="none" stroke="#00e8ff" stroke-width="1.50" stroke-linejoin="round"/>
<path d="M381.04,260.48 L381.29,260.04 L381.54,259.55 L381.80,258.99 L382.06,258.37 L382.31,257.70 L382.55,257.00 L382.79,256.26 L383.04,255.50 L383.28,254.70 L383.53,253.88 L383.78,253.03 L384.04,252.14 L384.31,251.17 L384.58,250.16 L384.86,249.13 L385.13,248.11 L385.39,247.11 L385.65,246.18 L385.89,245.32 L386.11,244.53 L386.32,243.78 L386.52,243.06 L386.72,242.38 L386.91,241.75 L387.10,241.16 L387.30,240.62 L387.50,240.13 L387.71,239.70 L387.92,239.31 L388.14,238.96 L388.36,238.67 L388.57,238.42 L388.79,238.22 L389.01,238.06 L389.22,237.96 L389.43,237.90 L389.63,237.91 L389.83,237.96 L390.03,238.06 L390.24,238.20 L390.45,238.37 L390.67,238.57 L390.91,238.78 L391.16,239.02 L391.41,239.29 L391.67,239.60 L391.94,239.94 L392.22,240.30 L392.52,240.67 L392.83,241.06 L393.17,241.44 L393.52,241.85 L393.88,242.27 L394.26,242.72 L394.66,243.18 L395.07,243.64 L395.51,244.10 L395.97,244.56" fill="none" stroke="#0008f5" stroke-width="1.50" stroke-linejoin="round"/>
<path d="M395.97,244.56 L396.46,245.01 L396.97,245.45 L397.50,245.90 L398.06,246.35 L398.64,246.79 L399.24,247.23 L399.86,247.66 L400.51,248.08 L401.17,248.49 L401.84,248.89 L402.53,249.28 L403.23,249.66 L403.95,250.04 L404.70,250.40 L405.49,250.75 L406.31,251.08" fill="none" stroke="#2a6cff" stroke-width="1.50" stroke-linejoin="round"/>
<path d="M406.31,251.08 L407.19,251.40 L408.11,251.71 L409.06,252.02 L410.05,252.32 L411.08,252.60 L412.14,252.85 L413.24,253.08 L414.38,253.26 L415.56,253.40 L416.78,253.51 L418.06,253.61 L419.38,253.69 L420.74,253.73 L422.12,253.72 L423.52,253.62 L424.92,253.44 L426.31,253.16 L427.73,252.75 L429.19,252.23" fill="none" stroke="#00e5ff" stroke-width="1.50" stroke-linejoin="round"/>
<path d="M429.19,252.23 L430.67,251.62 L432.15,250.94 L433.63,250.21 L435.07,249.44 L436.46,248.65 L437.78,247.87 L439.08,247.02 L440.42,246.05 L441.74,245.02 L443.01,243.98 L444.18,242.98 L445.24,242.08 L446.12,241.32 L446.80,240.76" fill="none" stroke="#1a60ff" stroke-width="1.50" stroke-linejoin="round"/>
<path d="M308.00,287.77 L308.03,287.57 L308.05,287.32 L308.07,287.01 L308.11,286.66 L308.17,286.31 L308.26,285.96 L308.40,285.63 L308.60,285.33 L308.85,285.08" fill="none" stroke="#ff8c00" stroke-width="1.50" stroke-linejoin="round"/>
<path d="M308.85,285.08 L309.14,284.84 L309.46,284.61 L309.82,284.39 L310.23,284.17 L310.68,283.95 L311.17,283.73 L311.70,283.50 L312.30,283.26 L312.96,283.00 L313.67,282.74 L314.43,282.49 L315.20,282.23 L315.98,281.98 L316.75,281.75 L317.50,281.53 L318.19,281.33 L318.83,281.15 L319.45,280.97 L320.09,280.81 L320.77,280.65 L321.52,280.50 L322.39,280.35 L323.40,280.20 L324.58,280.06 L325.90,279.91 L327.33,279.78 L328.84,279.65 L330.39,279.52 L331.96,279.40 L333.51,279.30 L335.00,279.20 L336.43,279.12 L337.84,279.05 L339.23,278.99 L340.62,278.94 L342.05,278.89 L343.53,278.84 L345.07,278.79 L346.70,278.73 L348.50,278.67 L350.47,278.62 L352.56,278.56 L354.67,278.51 L356.73,278.44 L358.68,278.37 L360.43,278.29 L361.90,278.20 L363.07,278.12" fill="none" stroke="#ffff00" stroke-width="1.50" stroke-linejoin="round"/>
<path d="M363.07,278.12 L364.01,278.09 L364.76,278.06 L365.38,278.01 L365.93,277.92 L366.46,277.75 L367.03,277.49 L367.70,277.10 L368.45,276.56 L369.24,275.88 L370.04,275.10 L370.84,274.25 L371.61,273.36 L372.34,272.48 L373.01,271.62 L373.60,270.83 L374.10,270.10 L374.51,269.37 L374.86,268.66 L375.17,267.96 L375.46,267.26 L375.74,266.57 L376.05,265.89" fill="none" stroke="#77ff00" stroke-width="1.50" stroke-linejoin="round"/>
<path d="M376.05,265.89 L376.40,265.20 L376.79,264.51 L377.20,263.81 L377.61,263.12 L378.04,262.43 L378.46,261.76 L378.86,261.10 L379.25,260.47 L379.60,259.87 L379.92,259.32 L380.22,258.83 L380.51,258.38 L380.77,257.94 L381.03,257.49" fill="none" stroke="#00e8ff" stroke-width="1.50" stroke-linejoin="round"/>
<path d="M381.03,257.49 L381.29,257.01 L381.54,256.48 L381.80,255.87 L382.06,255.19 L382.32,254.47 L382.57,253.71 L382.81,252.92 L383.06,252.08 L383.31,251.22 L383.57,250.32 L383.83,249.40 L384.11,248.41 L384.39,247.35 L384.68,246.23 L384.97,245.09 L385.26,243.95 L385.54,242.85 L385.81,241.82 L386.07,240.87 L386.31,239.99 L386.53,239.15 L386.75,238.36 L386.96,237.60 L387.16,236.90 L387.37,236.24 L387.58,235.64 L387.80,235.10 L388.03,234.61 L388.26,234.18 L388.49,233.80 L388.73,233.47 L388.97,233.19 L389.20,232.96 L389.44,232.79 L389.67,232.67 L389.89,232.60 L390.10,232.61 L390.31,232.67 L390.52,232.77 L390.74,232.92 L390.96,233.10 L391.19,233.31 L391.43,233.53 L391.69,233.78 L391.94,234.07 L392.20,234.40 L392.47,234.75 L392.75,235.13 L393.05,235.52 L393.37,235.92 L393.70,236.33 L394.05,236.76 L394.42,237.21 L394.80,237.69 L395.19,238.18 L395.60,238.67" fill="none" stroke="#0008f5" stroke-width="1.50" stroke-linejoin="round"/>
<path d="M395.60,238.67 L396.04,239.16 L396.49,239.65 L396.97,240.13 L397.46,240.61 L397.98,241.08 L398.52,241.56 L399.08,242.04 L399.65,242.51 L400.25,242.97 L400.87,243.42 L401.50,243.87 L402.15,244.30 L402.80,244.73 L403.48,245.16 L404.17,245.57 L404.89,245.98 L405.65,246.37 L406.44,246.74" fill="none" stroke="#2a6cff" stroke-width="1.50" stroke-linejoin="round"/>
<path d="M406.44,246.74 L407.27,247.10 L408.13,247.45 L409.03,247.80 L409.96,248.14 L410.92,248.46 L411.92,248.76 L412.95,249.02 L414.04,249.24 L415.17,249.40 L416.35,249.54 L417.60,249.67 L418.89,249.78 L420.22,249.84 L421.58,249.84 L422.96,249.76 L424.34,249.57 L425.73,249.27 L427.15,248.82 L428.61,248.25" fill="none" stroke="#00e5ff" stroke-width="1.50" stroke-linejoin="round"/>
<path d="M428.61,248.25 L430.10,247.57 L431.60,246.81 L433.09,245.99 L434.56,245.13 L435.98,244.26 L437.33,243.40 L438.68,242.47 L440.07,241.42 L441.46,240.30 L442.79,239.17 L444.04,238.08 L445.15,237.10 L446.08,236.28 L446.80,235.67" fill="none" stroke="#1a60ff" stroke-width="1.50" stroke-linejoin="round"/>
<path d="M308.00,287.18 L308.03,286.97 L308.05,286.69 L308.07,286.36 L308.11,285.99 L308.17,285.61 L308.26,285.23 L308.40,284.87 L308.60,284.56 L308.85,284.28" fill="none" stroke="#ff8c00" stroke-width="1.50" stroke-linejoin="round"/>
<path d="M308.85,284.28 L309.14,284.02 L309.46,283.78 L309.82,283.55 L310.23,283.32 L310.68,283.08 L311.17,282.85 L311.70,282.60 L312.30,282.34 L312.96,282.07 L313.67,281.79 L314.43,281.51 L315.20,281.24 L315.98,280.97 L316.75,280.72 L317.50,280.49 L318.19,280.27 L318.83,280.07 L319.45,279.88 L320.09,279.70 L320.77,279.52 L321.52,279.35 L322.39,279.19 L323.40,279.03 L324.58,278.88 L325.90,278.73 L327.33,278.58 L328.84,278.44 L330.39,278.31 L331.96,278.19 L333.51,278.07 L335.00,277.97 L336.43,277.88 L337.84,277.80 L339.23,277.74 L340.62,277.68 L342.05,277.63 L343.53,277.57 L345.07,277.52 L346.70,277.46 L348.50,277.39 L350.47,277.33 L352.56,277.27 L354.67,277.21 L356.73,277.15 L358.68,277.08 L360.43,277.00 L361.90,276.90 L363.07,276.83" fill="none" stroke="#ffff00" stroke-width="1.50" stroke-linejoin="round"/>
<path d="M363.07,276.83 L364.01,276.79 L364.76,276.77 L365.38,276.73 L365.93,276.64 L366.46,276.47 L367.03,276.20 L367.70,275.80 L368.45,275.24 L369.24,274.53 L370.04,273.72 L370.84,272.83 L371.61,271.90 L372.34,270.97 L373.01,270.06 L373.60,269.22 L374.10,268.43 L374.51,267.63 L374.86,266.85 L375.17,266.07 L375.46,265.30 L375.74,264.53 L376.05,263.76" fill="none" stroke="#77ff00" stroke-width="1.50" stroke-linejoin="round"/>
<path d="M376.05,263.76 L376.40,263.00 L376.79,262.23 L377.20,261.46 L377.61,260.69 L378.04,259.92 L378.46,259.17 L378.86,258.44 L379.25,257.74 L379.60,257.08 L379.92,256.48 L380.22,255.94 L380.50,255.45 L380.77,254.98 L381.03,254.49" fill="none" stroke="#00e8ff" stroke-width="1.50" stroke-linejoin="round"/>
<path d="M381.03,254.49 L381.28,253.98 L381.54,253.40 L381.80,252.74 L382.06,252.02 L382.32,251.24 L382.58,250.43 L382.83,249.57 L383.09,248.67 L383.35,247.74 L383.62,246.77 L383.89,245.77 L384.17,244.69 L384.47,243.52 L384.77,242.30 L385.08,241.05 L385.39,239.80 L385.68,238.59 L385.97,237.45 L386.24,236.41 L386.50,235.45 L386.74,234.53 L386.97,233.65 L387.19,232.82 L387.41,232.05 L387.64,231.33 L387.86,230.66 L388.10,230.07 L388.35,229.53 L388.60,229.05 L388.85,228.63 L389.11,228.27 L389.36,227.96 L389.62,227.71 L389.87,227.52 L390.11,227.38 L390.35,227.31 L390.57,227.31 L390.80,227.37 L391.02,227.48 L391.24,227.64 L391.47,227.83 L391.71,228.05 L391.96,228.29 L392.21,228.55 L392.47,228.85 L392.74,229.19 L393.01,229.56 L393.29,229.95 L393.59,230.36 L393.90,230.79 L394.23,231.22 L394.59,231.67 L394.95,232.15 L395.33,232.66 L395.73,233.17" fill="none" stroke="#0008f5" stroke-width="1.50" stroke-linejoin="round"/>
<path d="M395.73,233.17 L396.14,233.70 L396.57,234.22 L397.01,234.75 L397.48,235.26 L397.96,235.76 L398.46,236.27 L398.98,236.77 L399.51,237.28 L400.07,237.78 L400.64,238.28 L401.23,238.77 L401.83,239.24 L402.45,239.72 L403.08,240.19 L403.73,240.65 L404.40,241.11 L405.09,241.56 L405.80,241.99 L406.56,242.40" fill="none" stroke="#2a6cff" stroke-width="1.50" stroke-linejoin="round"/>
<path d="M406.56,242.40 L407.34,242.80 L408.16,243.19 L409.00,243.58 L409.86,243.96 L410.76,244.32 L411.69,244.66 L412.67,244.96 L413.69,245.21 L414.78,245.40 L415.92,245.57 L417.13,245.73 L418.39,245.87 L419.70,245.95 L421.04,245.97 L422.40,245.90 L423.77,245.71 L425.16,245.38 L426.57,244.89 L428.04,244.26 L429.54,243.52" fill="none" stroke="#00e5ff" stroke-width="1.50" stroke-linejoin="round"/>
<path d="M429.54,243.52 L431.05,242.68 L432.56,241.77 L434.05,240.83 L435.50,239.87 L436.89,238.93 L438.28,237.92 L439.73,236.78 L441.17,235.57 L442.58,234.35 L443.89,233.18 L445.06,232.12 L446.05,231.24 L446.80,230.58" fill="none" stroke="#1a60ff" stroke-width="1.50" stroke-linejoin="round"/>
<path d="M308.00,286.59 L308.03,286.37 L308.05,286.07 L308.07,285.71 L308.11,285.31 L308.17,284.90 L308.26,284.49 L308.40,284.11 L308.60,283.78 L308.85,283.48" fill="none" stroke="#ff8c00" stroke-width="1.50" stroke-linejoin="round"/>
<path d="M308.85,283.48 L309.14,283.21 L309.46,282.95 L309.82,282.70 L310.23,282.46 L310.68,282.21 L311.17,281.96 L311.70,281.70 L312.30,281.42 L312.96,281.13 L313.67,280.84 L314.43,280.54 L315.20,280.25 L315.98,279.96 L316.75,279.70 L317.50,279.44 L318.19,279.21 L318.83,278.99 L319.45,278.78 L320.09,278.59 L320.77,278.40 L321.52,278.21 L322.39,278.04 L323.40,277.87 L324.58,277.70 L325.90,277.54 L327.33,277.38 L328.84,277.24 L330.39,277.10 L331.96,276.97 L333.51,276.84 L335.00,276.73 L336.43,276.64 L337.84,276.55 L339.23,276.48 L340.62,276.42 L342.05,276.36 L343.53,276.30 L345.07,276.24 L346.70,276.18 L348.50,276.11 L350.47,276.05 L352.56,275.99 L354.67,275.92 L356.73,275.86 L358.68,275.78 L360.43,275.70 L361.90,275.60 L363.07,275.53" fill="none" stroke="#ffff00" stroke-width="1.50" stroke-linejoin="round"/>
<path d="M363.07,275.53 L364.01,275.50 L364.76,275.48 L365.38,275.44 L365.93,275.36 L366.46,275.19 L367.03,274.92 L367.70,274.50 L368.45,273.92 L369.24,273.18 L370.04,272.34 L370.84,271.41 L371.61,270.44 L372.34,269.46 L373.01,268.51 L373.60,267.61 L374.10,266.75 L374.51,265.90 L374.86,265.04 L375.17,264.18 L375.46,263.33 L375.74,262.48 L376.05,261.64" fill="none" stroke="#77ff00" stroke-width="1.50" stroke-linejoin="round"/>
<path d="M376.05,261.64 L376.40,260.80 L376.79,259.96 L377.20,259.11 L377.61,258.26 L378.04,257.41 L378.46,256.58 L378.86,255.78 L379.25,255.01 L379.60,254.29 L379.92,253.64 L380.22,253.06 L380.50,252.53 L380.77,252.02 L381.02,251.50" fill="none" stroke="#00e8ff" stroke-width="1.50" stroke-linejoin="round"/>
<path d="M381.02,251.50 L381.28,250.94 L381.53,250.33 L381.80,249.62 L382.07,248.84 L382.33,248.01 L382.59,247.14 L382.85,246.22 L383.12,245.26 L383.39,244.26 L383.66,243.22 L383.94,242.13 L384.24,240.97 L384.55,239.70 L384.87,238.37 L385.19,237.01 L385.52,235.65 L385.83,234.33 L386.13,233.09 L386.42,231.96 L386.69,230.91 L386.95,229.90 L387.19,228.95 L387.43,228.04 L387.67,227.19 L387.90,226.41 L388.15,225.69 L388.40,225.03 L388.66,224.45 L388.93,223.93 L389.21,223.47 L389.48,223.07 L389.76,222.73 L390.03,222.46 L390.30,222.24 L390.56,222.09 L390.80,222.01 L391.04,222.00 L391.28,222.07 L391.51,222.19 L391.74,222.36 L391.98,222.57 L392.22,222.80 L392.48,223.04 L392.74,223.32 L393.00,223.63 L393.27,223.99 L393.54,224.37 L393.82,224.78 L394.12,225.21 L394.43,225.66 L394.77,226.11 L395.12,226.59 L395.48,227.09 L395.86,227.62" fill="none" stroke="#0008f5" stroke-width="1.50" stroke-linejoin="round"/>
<path d="M395.86,227.62 L396.26,228.17 L396.67,228.73 L397.09,229.28 L397.53,229.84 L397.99,230.38 L398.46,230.91 L398.94,231.45 L399.44,231.99 L399.95,232.52 L400.48,233.06 L401.02,233.59 L401.59,234.11 L402.17,234.62 L402.76,235.13 L403.36,235.64 L403.98,236.15 L404.62,236.65 L405.28,237.13 L405.96,237.61 L406.68,238.06" fill="none" stroke="#2a6cff" stroke-width="1.50" stroke-linejoin="round"/>
<path d="M406.68,238.06 L407.42,238.50 L408.19,238.93 L408.97,239.36 L409.77,239.78 L410.60,240.19 L411.47,240.56 L412.38,240.90 L413.35,241.18 L414.39,241.40 L415.50,241.59 L416.67,241.79 L417.90,241.95 L419.18,242.06 L420.49,242.10 L421.84,242.03 L423.20,241.84 L424.58,241.49 L425.99,240.96 L427.46,240.28 L428.97,239.46" fill="none" stroke="#00e5ff" stroke-width="1.50" stroke-linejoin="round"/>
<path d="M428.97,239.46 L430.50,238.54 L432.03,237.56 L433.54,236.53 L435.02,235.49 L436.44,234.47 L437.88,233.38 L439.38,232.15 L440.89,230.85 L442.36,229.54 L443.74,228.28 L444.97,227.15 L446.01,226.19 L446.80,225.49" fill="none" stroke="#1a60ff" stroke-width="1.50" stroke-linejoin="round"/>
<path d="M308.00,286.00 L308.03,285.76 L308.05,285.44 L308.07,285.06 L308.11,284.64 L308.17,284.20 L308.26,283.76 L308.40,283.36 L308.60,283.00 L308.85,282.69" fill="none" stroke="#ff8c00" stroke-width="1.50" stroke-linejoin="round"/>
<path d="M308.85,282.69 L309.14,282.40 L309.46,282.13 L309.82,281.86 L310.23,281.60 L310.68,281.35 L311.17,281.08 L311.70,280.80 L312.30,280.50 L312.96,280.20 L313.67,279.88 L314.43,279.57 L315.20,279.26 L315.98,278.96 L316.75,278.67 L317.50,278.40 L318.19,278.15 L318.83,277.91 L319.45,277.69 L320.09,277.47 L320.77,277.27 L321.52,277.07 L322.39,276.88 L323.40,276.70 L324.58,276.52 L325.90,276.35 L327.33,276.19 L328.84,276.03 L330.39,275.88 L331.96,275.75 L333.51,275.62 L335.00,275.50 L336.43,275.40 L337.84,275.31 L339.23,275.23 L340.62,275.16 L342.05,275.10 L343.53,275.04 L345.07,274.97 L346.70,274.90 L348.50,274.83 L350.47,274.76 L352.56,274.70 L354.67,274.63 L356.73,274.56 L358.68,274.49 L360.43,274.40 L361.90,274.30 L363.07,274.23" fill="none" stroke="#ffff00" stroke-width="1.50" stroke-linejoin="round"/>
<path d="M363.07,274.23 L364.01,274.20 L364.76,274.19 L365.38,274.16 L365.93,274.08 L366.46,273.92 L367.03,273.63 L367.70,273.20 L368.45,272.59 L369.24,271.83 L370.04,270.96 L370.84,269.99 L371.61,268.98 L372.34,267.96 L373.01,266.95 L373.60,266.00 L374.10,265.08 L374.51,264.16 L374.86,263.23 L375.17,262.29 L375.46,261.36 L375.74,260.43 L376.05,259.51" fill="none" stroke="#77ff00" stroke-width="1.50" stroke-linejoin="round"/>
<path d="M376.05,259.51 L376.40,258.60 L376.79,257.68 L377.20,256.75 L377.61,255.82 L378.04,254.90 L378.46,254.00 L378.86,253.12 L379.25,252.28 L379.60,251.50 L379.92,250.80 L380.22,250.17 L380.50,249.60 L380.76,249.06 L381.02,248.50" fill="none" stroke="#00e8ff" stroke-width="1.50" stroke-linejoin="round"/>
<path d="M381.02,248.50 L381.27,247.91 L381.53,247.25 L381.80,246.50 L382.07,245.66 L382.34,244.78 L382.61,243.85 L382.88,242.88 L383.15,241.85 L383.42,240.78 L383.71,239.66 L384.00,238.50 L384.31,237.24 L384.63,235.88 L384.97,234.44 L385.31,232.97 L385.64,231.50 L385.98,230.07 L386.30,228.73 L386.60,227.50 L386.89,226.37 L387.16,225.28 L387.42,224.24 L387.67,223.26 L387.92,222.34 L388.17,221.49 L388.43,220.71 L388.70,220.00 L388.98,219.37 L389.27,218.80 L389.56,218.30 L389.86,217.87 L390.15,217.50 L390.44,217.20 L390.73,216.97 L391.00,216.80 L391.26,216.71 L391.51,216.70 L391.76,216.77 L392.00,216.90 L392.24,217.08 L392.49,217.30 L392.74,217.54 L393.00,217.80 L393.27,218.09 L393.53,218.41 L393.80,218.78 L394.08,219.18 L394.36,219.61 L394.65,220.06 L394.97,220.52 L395.30,221.00 L395.65,221.50" fill="none" stroke="#0008f5" stroke-width="1.50" stroke-linejoin="round"/>
<path d="M395.65,221.50 L396.02,222.03 L396.40,222.59 L396.79,223.17 L397.20,223.76 L397.62,224.34 L398.06,224.93 L398.50,225.50 L398.95,226.06 L399.42,226.63 L399.90,227.20 L400.39,227.77 L400.89,228.33 L401.41,228.90 L401.95,229.45 L402.50,230.00 L403.07,230.55 L403.64,231.09 L404.24,231.64 L404.84,232.18 L405.47,232.71 L406.12,233.23 L406.80,233.72" fill="none" stroke="#2a6cff" stroke-width="1.50" stroke-linejoin="round"/>
<path d="M406.80,233.72 L407.50,234.20 L408.22,234.67 L408.94,235.14 L409.67,235.61 L410.44,236.05 L411.24,236.46 L412.09,236.83 L413.01,237.15 L414.00,237.40 L415.07,237.62 L416.21,237.84 L417.41,238.04 L418.66,238.17 L419.95,238.23 L421.28,238.17 L422.63,237.97 L424.00,237.60 L425.41,237.04 L426.89,236.30 L428.41,235.41 L429.95,234.41" fill="none" stroke="#00e5ff" stroke-width="1.50" stroke-linejoin="round"/>
<path d="M429.95,234.41 L431.50,233.34 L433.04,232.22 L434.54,231.10 L436.00,230.00 L437.48,228.83 L439.04,227.52 L440.61,226.12 L442.15,224.73 L443.59,223.38 L444.89,222.17 L445.98,221.15 L446.80,220.40" fill="none" stroke="#1a60ff" stroke-width="1.50" stroke-linejoin="round"/>
<path d="M524.31,263.92 L540.22,255.52 L556.13,247.12 L572.04,238.44 L587.95,233.12 L603.86,227.38 L619.77,222.90 L635.68,219.40 L651.59,215.20 L667.50,210.30" fill="none" stroke="#111" stroke-width="1.5"/>
<path d="M524.31,306.20 L540.22,309.00 L556.13,311.80 L572.04,314.88 L587.95,317.40 L603.86,323.00 L619.77,325.80 L635.68,328.60 L651.59,331.40 L667.50,334.20" fill="none" stroke="#111" stroke-width="1.5"/>
<circle cx="524.31" cy="263.92" r="4.5" fill="url(#g_red)"/>
<circle cx="540.22" cy="255.52" r="4.5" fill="url(#g_orange)"/>
<circle cx="556.13" cy="247.12" r="4.5" fill="url(#g_yellow)"/>
<circle cx="572.04" cy="238.44" r="4.5" fill="url(#g_ygreen)"/>
<circle cx="587.95" cy="233.12" r="4.5" fill="url(#g_green)"/>
<circle cx="603.86" cy="227.38" r="4.5" fill="url(#g_cyan)"/>
<circle cx="619.77" cy="222.90" r="4.5" fill="url(#g_dblue)"/>
<circle cx="635.68" cy="219.40" r="4.5" fill="url(#g_mblue)"/>
<circle cx="651.59" cy="215.20" r="4.5" fill="url(#g_blue)"/>
<circle cx="667.50" cy="210.30" r="4.5" fill="url(#g_blue)"/>
<circle cx="524.31" cy="306.20" r="4.5" fill="#ff0000"/>
<circle cx="540.22" cy="309.00" r="4.5" fill="#ff8000"/>
<circle cx="556.13" cy="311.80" r="4.5" fill="#ffff00"/>
<circle cx="572.04" cy="314.88" r="4.5" fill="#80ff00"/>
<circle cx="587.95" cy="317.40" r="4.5" fill="#00ee00"/>
<circle cx="603.86" cy="323.00" r="4.5" fill="#00ffff"/>
<circle cx="619.77" cy="325.80" r="4.5" fill="#1e90ff"/>
<circle cx="635.68" cy="328.60" r="4.5" fill="#1874ff"/>
<circle cx="651.59" cy="331.40" r="4.5" fill="#0000ee"/>
<circle cx="667.50" cy="334.20" r="4.5" fill="#0000ee"/>
<path d="M512.3,212.6H542.7M512.3,229.1H542.7" stroke="#111" stroke-width="1.5"/>
<circle cx="527.5" cy="212.6" r="4.5" fill="url(#g_red)"/>
<circle cx="527.5" cy="229.1" r="4.5" fill="#ff0000"/>
<text x="545.70" y="217.10" font-size="12.20" font-weight="bold" font-style="italic" text-anchor="start" fill="#000" textLength="15.50" lengthAdjust="spacingAndGlyphs" >Ipa</text>
<text x="545.70" y="233.20" font-size="12.20" font-weight="bold" font-style="italic" text-anchor="start" fill="#000" textLength="15.00" lengthAdjust="spacingAndGlyphs" >Ipc</text>
</svg></body></html>
